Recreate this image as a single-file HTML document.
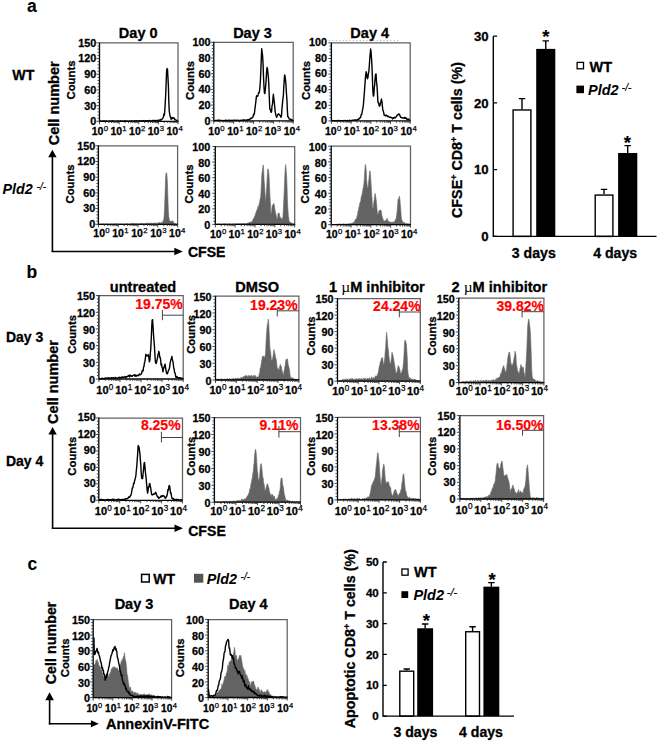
<!DOCTYPE html>
<html><head><meta charset="utf-8"><style>
html,body{margin:0;padding:0;background:#fff;width:660px;height:744px;overflow:hidden}
svg{display:block}
text{font-family:"Liberation Sans",sans-serif}
</style></head><body>
<svg width="660" height="744" viewBox="0 0 660 744" font-family='"Liberation Sans", sans-serif'>
<rect width="660" height="744" fill="#fff"/>
<path d="M100.00,121.21 L100.45,121.01 L100.90,121.20 L101.35,121.22 L101.80,121.30 L102.25,121.19 L102.70,120.86 L103.15,121.03 L103.60,120.88 L104.05,121.07 L104.50,121.04 L104.95,121.09 L105.40,121.30 L105.85,120.92 L106.30,121.01 L106.75,121.01 L107.20,121.30 L107.65,121.30 L108.10,121.30 L108.55,121.25 L109.00,121.05 L109.45,121.14 L109.90,121.00 L110.35,121.29 L110.80,121.05 L111.25,121.03 L111.70,121.29 L112.15,120.70 L112.60,120.99 L113.05,120.82 L113.50,121.28 L113.95,121.30 L114.40,121.21 L114.85,121.15 L115.30,120.96 L115.75,121.06 L116.20,121.23 L116.65,121.30 L117.10,121.25 L117.55,120.81 L118.00,121.30 L118.45,121.06 L118.90,121.01 L119.35,121.30 L119.80,121.10 L120.25,120.79 L120.70,121.30 L121.15,121.19 L121.60,121.14 L122.05,121.30 L122.50,120.98 L122.95,121.13 L123.40,121.30 L123.85,120.90 L124.30,120.94 L124.75,120.87 L125.20,120.74 L125.65,121.01 L126.10,121.07 L126.55,121.30 L127.00,120.94 L127.45,121.25 L127.90,121.21 L128.35,121.30 L128.80,121.30 L129.25,121.23 L129.70,120.76 L130.15,121.30 L130.60,121.30 L131.05,121.03 L131.50,120.72 L131.95,120.94 L132.40,121.30 L132.85,121.30 L133.30,120.98 L133.75,121.26 L134.20,121.30 L134.65,120.82 L135.10,120.78 L135.55,121.02 L136.00,120.99 L136.45,120.94 L136.90,120.64 L137.35,120.88 L137.80,120.91 L138.25,120.89 L138.70,121.30 L139.15,120.69 L139.60,120.77 L140.05,120.88 L140.50,121.30 L140.95,121.17 L141.40,120.78 L141.85,121.30 L142.30,121.03 L142.75,120.71 L143.20,121.30 L143.65,120.54 L144.10,120.81 L144.55,120.99 L145.00,120.85 L145.45,120.76 L145.90,120.89 L146.35,120.61 L146.80,121.09 L147.25,121.01 L147.70,120.61 L148.15,120.87 L148.60,121.11 L149.05,120.60 L149.50,120.45 L149.95,120.96 L150.40,121.21 L150.85,120.86 L151.30,120.85 L151.75,120.88 L152.20,120.39 L152.65,121.07 L153.10,120.41 L153.55,121.11 L154.00,120.96 L154.45,120.54 L154.90,120.38 L155.35,120.44 L155.80,120.56 L156.25,120.60 L156.70,120.57 L157.15,120.41 L157.60,120.60 L158.05,120.42 L158.50,120.28 L158.95,120.41 L159.40,120.12 L159.85,120.12 L160.30,119.57 L160.75,119.99 L161.20,120.02 L161.65,119.68 L162.10,119.11 L162.55,118.14 L163.00,118.13 L163.45,116.85 L163.90,113.96 L164.35,115.23 L164.80,110.50 L165.25,102.97 L165.70,94.20 L166.15,83.03 L166.60,70.74 L167.05,68.55 L167.50,69.14 L167.95,77.86 L168.40,86.14 L168.85,102.80 L169.30,111.65 L169.75,114.31 L170.20,116.53 L170.65,117.54 L171.10,119.27 L171.55,118.15 L172.00,117.42 L172.45,118.65 L172.90,118.17 L173.35,117.81 L173.80,118.08 L174.25,118.05 L174.70,119.77 L175.15,119.46 L175.60,119.86 L176.05,119.99 L176.50,120.27 L176.95,121.30 L177.40,120.69 L177.85,121.30 L178.00,120.97" fill="none" stroke="#000" stroke-width="1.4" stroke-linejoin="round"/>
<path d="M99.50,42.90 H178.00 V121.30" fill="none" stroke="#606060" stroke-width="1.25"/>
<path d="M99.50,42.40 V121.30 H178.50" fill="none" stroke="#000" stroke-width="1.3"/>
<path d="M96.50,121.30 H99.50 M97.50,118.16 H99.50 M97.50,115.03 H99.50 M97.50,111.89 H99.50 M97.50,108.76 H99.50 M96.50,105.62 H99.50 M97.50,102.48 H99.50 M97.50,99.35 H99.50 M97.50,96.21 H99.50 M97.50,93.08 H99.50 M96.50,89.94 H99.50 M97.50,86.80 H99.50 M97.50,83.67 H99.50 M97.50,80.53 H99.50 M97.50,77.40 H99.50 M96.50,74.26 H99.50 M97.50,71.12 H99.50 M97.50,67.99 H99.50 M97.50,64.85 H99.50 M97.50,61.72 H99.50 M96.50,58.58 H99.50 M97.50,55.44 H99.50 M97.50,52.31 H99.50 M97.50,49.17 H99.50 M97.50,46.04 H99.50 M96.50,42.90 H99.50" stroke="#333" stroke-width="0.9"/>
<path d="M99.50,121.30 V124.30 M105.41,121.30 V123.10 M108.86,121.30 V123.10 M111.32,121.30 V123.10 M113.22,121.30 V123.10 M114.77,121.30 V123.10 M116.09,121.30 V123.10 M117.22,121.30 V123.10 M118.23,121.30 V123.10 M119.12,121.30 V124.30 M125.03,121.30 V123.10 M128.49,121.30 V123.10 M130.94,121.30 V123.10 M132.84,121.30 V123.10 M134.40,121.30 V123.10 M135.71,121.30 V123.10 M136.85,121.30 V123.10 M137.85,121.30 V123.10 M138.75,121.30 V124.30 M144.66,121.30 V123.10 M148.11,121.30 V123.10 M150.57,121.30 V123.10 M152.47,121.30 V123.10 M154.02,121.30 V123.10 M155.34,121.30 V123.10 M156.47,121.30 V123.10 M157.48,121.30 V123.10 M158.38,121.30 V124.30 M164.28,121.30 V123.10 M167.74,121.30 V123.10 M170.19,121.30 V123.10 M172.09,121.30 V123.10 M173.65,121.30 V123.10 M174.96,121.30 V123.10 M176.10,121.30 V123.10 M177.10,121.30 V123.10 M178.00,121.30 V124.30" stroke="#333" stroke-width="0.9"/>
<text x="96.30" y="125.19" font-size="10.8" text-anchor="end" font-weight="bold" font-style="normal" fill="#000" stroke="#000" stroke-width="0.3" >0</text>
<text x="96.30" y="109.51" font-size="10.8" text-anchor="end" font-weight="bold" font-style="normal" fill="#000" stroke="#000" stroke-width="0.3" >30</text>
<text x="96.30" y="93.83" font-size="10.8" text-anchor="end" font-weight="bold" font-style="normal" fill="#000" stroke="#000" stroke-width="0.3" >60</text>
<text x="96.30" y="78.15" font-size="10.8" text-anchor="end" font-weight="bold" font-style="normal" fill="#000" stroke="#000" stroke-width="0.3" >90</text>
<text x="96.30" y="62.47" font-size="10.8" text-anchor="end" font-weight="bold" font-style="normal" fill="#000" stroke="#000" stroke-width="0.3" >120</text>
<text x="96.30" y="46.79" font-size="10.8" text-anchor="end" font-weight="bold" font-style="normal" fill="#000" stroke="#000" stroke-width="0.3" >150</text>
<text x="91.70" y="135.30" font-size="10.5" font-weight="bold" stroke="#000" stroke-width="0.3">10<tspan font-size="7.77" font-weight="normal" stroke-width="0.25" dx="0.3" dy="-4.20">0</tspan></text>
<text x="110.38" y="135.30" font-size="10.5" font-weight="bold" stroke="#000" stroke-width="0.3">10<tspan font-size="7.77" font-weight="normal" stroke-width="0.25" dx="0.3" dy="-4.20">1</tspan></text>
<text x="129.05" y="135.30" font-size="10.5" font-weight="bold" stroke="#000" stroke-width="0.3">10<tspan font-size="7.77" font-weight="normal" stroke-width="0.25" dx="0.3" dy="-4.20">2</tspan></text>
<text x="147.73" y="135.30" font-size="10.5" font-weight="bold" stroke="#000" stroke-width="0.3">10<tspan font-size="7.77" font-weight="normal" stroke-width="0.25" dx="0.3" dy="-4.20">3</tspan></text>
<text x="166.40" y="135.30" font-size="10.5" font-weight="bold" stroke="#000" stroke-width="0.3">10<tspan font-size="7.77" font-weight="normal" stroke-width="0.25" dx="0.3" dy="-4.20">4</tspan></text>
<text transform="translate(74.80,80.00) rotate(-90)" x="0" y="0" font-size="11.3" text-anchor="middle" font-weight="bold" stroke="#000" stroke-width="0.3">Counts</text>
<path d="M214.00,120.80 L214.45,120.60 L214.90,120.34 L215.35,120.67 L215.80,120.58 L216.25,120.43 L216.70,120.59 L217.15,120.64 L217.60,120.24 L218.05,120.36 L218.50,120.69 L218.95,119.93 L219.40,120.80 L219.85,120.38 L220.30,120.67 L220.75,120.57 L221.20,120.42 L221.65,120.54 L222.10,120.44 L222.55,120.80 L223.00,120.80 L223.45,120.44 L223.90,120.80 L224.35,120.80 L224.80,120.80 L225.25,120.27 L225.70,120.39 L226.15,120.21 L226.60,120.80 L227.05,120.57 L227.50,120.80 L227.95,120.38 L228.40,120.17 L228.85,120.79 L229.30,120.17 L229.75,120.31 L230.20,120.60 L230.65,120.80 L231.10,120.20 L231.55,120.57 L232.00,120.70 L232.45,120.44 L232.90,120.43 L233.35,120.16 L233.80,120.79 L234.25,120.24 L234.70,120.15 L235.15,120.15 L235.60,120.56 L236.05,120.70 L236.50,120.25 L236.95,120.47 L237.40,120.46 L237.85,120.13 L238.30,120.55 L238.75,120.80 L239.20,120.57 L239.65,120.80 L240.10,120.25 L240.55,120.37 L241.00,120.60 L241.45,120.44 L241.90,120.22 L242.35,120.40 L242.80,120.07 L243.25,120.42 L243.70,120.12 L244.15,119.98 L244.60,119.91 L245.05,120.47 L245.50,120.00 L245.95,120.69 L246.40,120.40 L246.85,120.57 L247.30,119.61 L247.75,120.18 L248.20,119.70 L248.65,119.62 L249.10,119.43 L249.55,119.46 L250.00,119.02 L250.45,118.29 L250.90,118.71 L251.35,118.32 L251.80,117.85 L252.25,117.81 L252.70,117.57 L253.15,116.32 L253.60,114.26 L254.05,114.70 L254.50,112.62 L254.95,108.77 L255.40,105.09 L255.85,101.59 L256.30,97.17 L256.75,95.63 L257.20,96.26 L257.65,96.26 L258.10,94.98 L258.55,92.80 L259.00,93.05 L259.45,91.57 L259.90,87.26 L260.35,81.51 L260.80,71.89 L261.25,59.52 L261.70,48.65 L262.15,52.55 L262.60,55.67 L263.05,63.57 L263.50,76.55 L263.95,86.23 L264.40,92.80 L264.85,93.59 L265.30,89.89 L265.75,85.17 L266.20,78.91 L266.65,70.69 L267.10,67.50 L267.55,69.30 L268.00,73.83 L268.45,78.14 L268.90,86.61 L269.35,97.89 L269.80,109.17 L270.25,109.29 L270.70,110.49 L271.15,112.38 L271.60,111.29 L272.05,105.49 L272.50,104.44 L272.95,98.29 L273.40,94.27 L273.85,98.92 L274.30,102.43 L274.75,106.76 L275.20,111.86 L275.65,113.97 L276.10,115.77 L276.55,117.30 L277.00,116.54 L277.45,115.55 L277.90,114.31 L278.35,114.07 L278.80,113.86 L279.25,114.72 L279.70,115.09 L280.15,115.36 L280.60,116.55 L281.05,117.26 L281.50,115.53 L281.95,108.75 L282.40,104.41 L282.85,98.97 L283.30,96.55 L283.75,87.21 L284.20,80.38 L284.65,74.83 L285.10,76.47 L285.55,80.61 L286.00,85.41 L286.45,93.45 L286.90,99.20 L287.35,109.82 L287.80,116.80 L288.25,116.91 L288.70,117.38 L289.15,119.07 L289.60,119.13 L290.05,119.07 L290.50,119.34 L290.95,119.77 L291.40,120.17 L291.85,119.50 L292.30,120.00 L292.75,120.76 L293.20,120.80 L293.20,120.23" fill="none" stroke="#000" stroke-width="1.4" stroke-linejoin="round"/>
<path d="M213.80,42.30 H293.20 V120.80" fill="none" stroke="#606060" stroke-width="1.25"/>
<path d="M213.80,41.80 V120.80 H293.70" fill="none" stroke="#000" stroke-width="1.3"/>
<path d="M210.80,120.80 H213.80 M211.80,117.66 H213.80 M211.80,114.52 H213.80 M211.80,111.38 H213.80 M211.80,108.24 H213.80 M210.80,105.10 H213.80 M211.80,101.96 H213.80 M211.80,98.82 H213.80 M211.80,95.68 H213.80 M211.80,92.54 H213.80 M210.80,89.40 H213.80 M211.80,86.26 H213.80 M211.80,83.12 H213.80 M211.80,79.98 H213.80 M211.80,76.84 H213.80 M210.80,73.70 H213.80 M211.80,70.56 H213.80 M211.80,67.42 H213.80 M211.80,64.28 H213.80 M211.80,61.14 H213.80 M210.80,58.00 H213.80 M211.80,54.86 H213.80 M211.80,51.72 H213.80 M211.80,48.58 H213.80 M211.80,45.44 H213.80 M210.80,42.30 H213.80" stroke="#333" stroke-width="0.9"/>
<path d="M213.80,120.80 V123.80 M219.78,120.80 V122.60 M223.27,120.80 V122.60 M225.75,120.80 V122.60 M227.67,120.80 V122.60 M229.25,120.80 V122.60 M230.58,120.80 V122.60 M231.73,120.80 V122.60 M232.74,120.80 V122.60 M233.65,120.80 V123.80 M239.63,120.80 V122.60 M243.12,120.80 V122.60 M245.60,120.80 V122.60 M247.52,120.80 V122.60 M249.10,120.80 V122.60 M250.43,120.80 V122.60 M251.58,120.80 V122.60 M252.59,120.80 V122.60 M253.50,120.80 V123.80 M259.48,120.80 V122.60 M262.97,120.80 V122.60 M265.45,120.80 V122.60 M267.37,120.80 V122.60 M268.95,120.80 V122.60 M270.28,120.80 V122.60 M271.43,120.80 V122.60 M272.44,120.80 V122.60 M273.35,120.80 V123.80 M279.33,120.80 V122.60 M282.82,120.80 V122.60 M285.30,120.80 V122.60 M287.22,120.80 V122.60 M288.80,120.80 V122.60 M290.13,120.80 V122.60 M291.28,120.80 V122.60 M292.29,120.80 V122.60 M293.20,120.80 V123.80" stroke="#333" stroke-width="0.9"/>
<text x="210.60" y="124.69" font-size="10.8" text-anchor="end" font-weight="bold" font-style="normal" fill="#000" stroke="#000" stroke-width="0.3" >0</text>
<text x="210.60" y="108.99" font-size="10.8" text-anchor="end" font-weight="bold" font-style="normal" fill="#000" stroke="#000" stroke-width="0.3" >20</text>
<text x="210.60" y="93.29" font-size="10.8" text-anchor="end" font-weight="bold" font-style="normal" fill="#000" stroke="#000" stroke-width="0.3" >40</text>
<text x="210.60" y="77.59" font-size="10.8" text-anchor="end" font-weight="bold" font-style="normal" fill="#000" stroke="#000" stroke-width="0.3" >60</text>
<text x="210.60" y="61.89" font-size="10.8" text-anchor="end" font-weight="bold" font-style="normal" fill="#000" stroke="#000" stroke-width="0.3" >80</text>
<text x="210.60" y="46.19" font-size="10.8" text-anchor="end" font-weight="bold" font-style="normal" fill="#000" stroke="#000" stroke-width="0.3" >100</text>
<text x="208.30" y="135.30" font-size="10.5" font-weight="bold" stroke="#000" stroke-width="0.3">10<tspan font-size="7.77" font-weight="normal" stroke-width="0.25" dx="0.3" dy="-4.20">0</tspan></text>
<text x="227.15" y="135.30" font-size="10.5" font-weight="bold" stroke="#000" stroke-width="0.3">10<tspan font-size="7.77" font-weight="normal" stroke-width="0.25" dx="0.3" dy="-4.20">1</tspan></text>
<text x="246.00" y="135.30" font-size="10.5" font-weight="bold" stroke="#000" stroke-width="0.3">10<tspan font-size="7.77" font-weight="normal" stroke-width="0.25" dx="0.3" dy="-4.20">2</tspan></text>
<text x="264.85" y="135.30" font-size="10.5" font-weight="bold" stroke="#000" stroke-width="0.3">10<tspan font-size="7.77" font-weight="normal" stroke-width="0.25" dx="0.3" dy="-4.20">3</tspan></text>
<text x="283.70" y="135.30" font-size="10.5" font-weight="bold" stroke="#000" stroke-width="0.3">10<tspan font-size="7.77" font-weight="normal" stroke-width="0.25" dx="0.3" dy="-4.20">4</tspan></text>
<text transform="translate(193.60,80.50) rotate(-90)" x="0" y="0" font-size="11.3" text-anchor="middle" font-weight="bold" stroke="#000" stroke-width="0.3">Counts</text>
<path d="M331.50,120.50 L331.95,120.30 L332.40,120.54 L332.85,120.90 L333.30,120.67 L333.75,120.90 L334.20,120.90 L334.65,120.74 L335.10,120.59 L335.55,120.89 L336.00,120.74 L336.45,120.60 L336.90,120.62 L337.35,120.55 L337.80,120.65 L338.25,120.78 L338.70,120.51 L339.15,120.69 L339.60,120.90 L340.05,120.85 L340.50,120.69 L340.95,120.71 L341.40,120.65 L341.85,120.68 L342.30,120.63 L342.75,120.71 L343.20,120.90 L343.65,120.56 L344.10,120.40 L344.55,120.55 L345.00,120.70 L345.45,120.54 L345.90,120.89 L346.35,120.90 L346.80,120.62 L347.25,120.87 L347.70,120.44 L348.15,120.89 L348.60,120.90 L349.05,120.87 L349.50,120.20 L349.95,120.69 L350.40,120.90 L350.85,120.77 L351.30,120.43 L351.75,120.42 L352.20,120.48 L352.65,120.11 L353.10,120.28 L353.55,120.44 L354.00,120.24 L354.45,119.91 L354.90,120.05 L355.35,119.98 L355.80,120.50 L356.25,120.18 L356.70,119.86 L357.15,120.05 L357.60,119.49 L358.05,119.43 L358.50,119.09 L358.95,119.19 L359.40,117.88 L359.85,117.95 L360.30,117.90 L360.75,116.88 L361.20,114.38 L361.65,114.60 L362.10,112.12 L362.55,109.98 L363.00,107.51 L363.45,104.22 L363.90,98.12 L364.35,93.17 L364.80,86.26 L365.25,79.88 L365.70,75.11 L366.15,71.77 L366.60,73.65 L367.05,77.30 L367.50,78.66 L367.95,77.30 L368.40,73.38 L368.85,71.58 L369.30,65.98 L369.75,58.60 L370.20,53.69 L370.65,49.05 L371.10,52.34 L371.55,59.05 L372.00,66.86 L372.45,79.41 L372.90,91.61 L373.35,96.13 L373.80,95.10 L374.25,87.98 L374.70,84.68 L375.15,77.50 L375.60,74.08 L376.05,73.98 L376.50,81.64 L376.95,85.47 L377.40,92.28 L377.85,101.41 L378.30,103.01 L378.75,103.13 L379.20,105.90 L379.65,106.21 L380.10,105.01 L380.55,102.63 L381.00,101.23 L381.45,99.06 L381.90,101.43 L382.35,105.74 L382.80,109.66 L383.25,110.91 L383.70,112.67 L384.15,115.22 L384.60,115.08 L385.05,115.60 L385.50,115.73 L385.95,115.26 L386.40,115.33 L386.85,115.23 L387.30,116.59 L387.75,116.63 L388.20,116.25 L388.65,116.60 L389.10,116.89 L389.55,116.97 L390.00,117.46 L390.45,116.95 L390.90,117.27 L391.35,117.60 L391.80,117.96 L392.25,117.83 L392.70,118.93 L393.15,118.17 L393.60,117.68 L394.05,118.25 L394.50,117.39 L394.95,117.26 L395.40,117.79 L395.85,117.10 L396.30,116.78 L396.75,115.84 L397.20,115.09 L397.65,114.82 L398.10,114.80 L398.55,114.03 L399.00,114.01 L399.45,114.22 L399.90,115.44 L400.35,116.64 L400.80,117.34 L401.25,117.21 L401.70,117.68 L402.15,118.08 L402.60,117.83 L403.05,118.11 L403.50,117.97 L403.95,117.89 L404.40,118.34 L404.85,117.33 L405.30,118.44 L405.75,117.98 L406.20,118.46 L406.65,118.23 L407.10,119.66 L407.55,119.27 L408.00,119.16 L408.45,119.29 L408.90,119.02 L409.35,119.89 L409.80,119.88 L410.20,120.23" fill="none" stroke="#000" stroke-width="1.4" stroke-linejoin="round"/>
<path d="M331.40,42.90 H410.20 V120.90" fill="none" stroke="#606060" stroke-width="1.25"/>
<path d="M331.40,42.40 V120.90 H410.70" fill="none" stroke="#000" stroke-width="1.3"/>
<path d="M328.40,120.90 H331.40 M329.40,117.78 H331.40 M329.40,114.66 H331.40 M329.40,111.54 H331.40 M329.40,108.42 H331.40 M328.40,105.30 H331.40 M329.40,102.18 H331.40 M329.40,99.06 H331.40 M329.40,95.94 H331.40 M329.40,92.82 H331.40 M328.40,89.70 H331.40 M329.40,86.58 H331.40 M329.40,83.46 H331.40 M329.40,80.34 H331.40 M329.40,77.22 H331.40 M328.40,74.10 H331.40 M329.40,70.98 H331.40 M329.40,67.86 H331.40 M329.40,64.74 H331.40 M329.40,61.62 H331.40 M328.40,58.50 H331.40 M329.40,55.38 H331.40 M329.40,52.26 H331.40 M329.40,49.14 H331.40 M329.40,46.02 H331.40 M328.40,42.90 H331.40" stroke="#333" stroke-width="0.9"/>
<path d="M331.40,120.90 V123.90 M337.33,120.90 V122.70 M340.80,120.90 V122.70 M343.26,120.90 V122.70 M345.17,120.90 V122.70 M346.73,120.90 V122.70 M348.05,120.90 V122.70 M349.19,120.90 V122.70 M350.20,120.90 V122.70 M351.10,120.90 V123.90 M357.03,120.90 V122.70 M360.50,120.90 V122.70 M362.96,120.90 V122.70 M364.87,120.90 V122.70 M366.43,120.90 V122.70 M367.75,120.90 V122.70 M368.89,120.90 V122.70 M369.90,120.90 V122.70 M370.80,120.90 V123.90 M376.73,120.90 V122.70 M380.20,120.90 V122.70 M382.66,120.90 V122.70 M384.57,120.90 V122.70 M386.13,120.90 V122.70 M387.45,120.90 V122.70 M388.59,120.90 V122.70 M389.60,120.90 V122.70 M390.50,120.90 V123.90 M396.43,120.90 V122.70 M399.90,120.90 V122.70 M402.36,120.90 V122.70 M404.27,120.90 V122.70 M405.83,120.90 V122.70 M407.15,120.90 V122.70 M408.29,120.90 V122.70 M409.30,120.90 V122.70 M410.20,120.90 V123.90" stroke="#333" stroke-width="0.9"/>
<text x="327.00" y="124.14" font-size="10.8" text-anchor="end" font-weight="bold" font-style="normal" fill="#000" stroke="#000" stroke-width="0.3" >0</text>
<text x="327.00" y="108.54" font-size="10.8" text-anchor="end" font-weight="bold" font-style="normal" fill="#000" stroke="#000" stroke-width="0.3" >20</text>
<text x="327.00" y="92.94" font-size="10.8" text-anchor="end" font-weight="bold" font-style="normal" fill="#000" stroke="#000" stroke-width="0.3" >40</text>
<text x="327.00" y="77.34" font-size="10.8" text-anchor="end" font-weight="bold" font-style="normal" fill="#000" stroke="#000" stroke-width="0.3" >60</text>
<text x="327.00" y="61.74" font-size="10.8" text-anchor="end" font-weight="bold" font-style="normal" fill="#000" stroke="#000" stroke-width="0.3" >80</text>
<text x="327.00" y="46.14" font-size="10.8" text-anchor="end" font-weight="bold" font-style="normal" fill="#000" stroke="#000" stroke-width="0.3" >100</text>
<text x="325.00" y="135.30" font-size="10.5" font-weight="bold" stroke="#000" stroke-width="0.3">10<tspan font-size="7.77" font-weight="normal" stroke-width="0.25" dx="0.3" dy="-4.20">0</tspan></text>
<text x="343.85" y="135.30" font-size="10.5" font-weight="bold" stroke="#000" stroke-width="0.3">10<tspan font-size="7.77" font-weight="normal" stroke-width="0.25" dx="0.3" dy="-4.20">1</tspan></text>
<text x="362.70" y="135.30" font-size="10.5" font-weight="bold" stroke="#000" stroke-width="0.3">10<tspan font-size="7.77" font-weight="normal" stroke-width="0.25" dx="0.3" dy="-4.20">2</tspan></text>
<text x="381.55" y="135.30" font-size="10.5" font-weight="bold" stroke="#000" stroke-width="0.3">10<tspan font-size="7.77" font-weight="normal" stroke-width="0.25" dx="0.3" dy="-4.20">3</tspan></text>
<text x="400.40" y="135.30" font-size="10.5" font-weight="bold" stroke="#000" stroke-width="0.3">10<tspan font-size="7.77" font-weight="normal" stroke-width="0.25" dx="0.3" dy="-4.20">4</tspan></text>
<text transform="translate(310.00,80.50) rotate(-90)" x="0" y="0" font-size="11.3" text-anchor="middle" font-weight="bold" stroke="#000" stroke-width="0.3">Counts</text>
<path d="M98.40,224.30 L98.50,223.96 L98.95,224.06 L99.40,224.22 L99.85,224.05 L100.30,224.30 L100.75,223.88 L101.20,224.30 L101.65,224.10 L102.10,223.63 L102.55,224.20 L103.00,224.14 L103.45,223.85 L103.90,224.13 L104.35,224.30 L104.80,224.06 L105.25,223.97 L105.70,223.93 L106.15,224.30 L106.60,223.66 L107.05,223.68 L107.50,224.09 L107.95,224.02 L108.40,224.19 L108.85,223.72 L109.30,224.26 L109.75,223.90 L110.20,224.19 L110.65,224.24 L111.10,223.87 L111.55,223.71 L112.00,224.05 L112.45,224.22 L112.90,223.83 L113.35,224.05 L113.80,223.95 L114.25,223.63 L114.70,223.72 L115.15,224.15 L115.60,223.41 L116.05,224.00 L116.50,223.79 L116.95,224.16 L117.40,224.00 L117.85,224.30 L118.30,223.51 L118.75,223.61 L119.20,224.29 L119.65,224.30 L120.10,224.30 L120.55,223.64 L121.00,224.07 L121.45,223.96 L121.90,224.02 L122.35,223.96 L122.80,224.22 L123.25,223.91 L123.70,224.30 L124.15,223.93 L124.60,223.82 L125.05,223.77 L125.50,223.95 L125.95,224.13 L126.40,223.83 L126.85,224.00 L127.30,223.43 L127.75,223.65 L128.20,223.88 L128.65,223.98 L129.10,224.03 L129.55,224.09 L130.00,223.92 L130.45,223.74 L130.90,223.67 L131.35,223.64 L131.80,223.21 L132.25,223.99 L132.70,223.78 L133.15,222.98 L133.60,224.29 L134.05,223.90 L134.50,223.70 L134.95,223.70 L135.40,223.61 L135.85,223.79 L136.30,223.61 L136.75,223.69 L137.20,223.47 L137.65,224.24 L138.10,223.93 L138.55,223.67 L139.00,223.96 L139.45,223.95 L139.90,223.45 L140.35,223.82 L140.80,223.43 L141.25,223.38 L141.70,223.50 L142.15,223.43 L142.60,223.60 L143.05,223.98 L143.50,223.56 L143.95,223.40 L144.40,223.68 L144.85,223.54 L145.30,223.27 L145.75,223.75 L146.20,223.27 L146.65,222.88 L147.10,223.62 L147.55,223.38 L148.00,223.46 L148.45,222.91 L148.90,223.28 L149.35,223.08 L149.80,223.58 L150.25,223.34 L150.70,223.33 L151.15,223.88 L151.60,222.82 L152.05,222.98 L152.50,223.83 L152.95,222.99 L153.40,223.27 L153.85,223.06 L154.30,223.08 L154.75,223.69 L155.20,223.24 L155.65,222.65 L156.10,223.34 L156.55,223.48 L157.00,223.58 L157.45,223.51 L157.90,222.95 L158.35,222.46 L158.80,222.87 L159.25,222.90 L159.70,222.15 L160.15,223.10 L160.60,223.11 L161.05,222.62 L161.50,222.55 L161.95,223.04 L162.40,222.76 L162.85,221.42 L163.30,220.37 L163.75,220.02 L164.20,215.37 L164.65,205.36 L165.10,193.03 L165.55,179.17 L166.00,172.95 L166.45,172.83 L166.90,174.60 L167.35,181.82 L167.80,195.26 L168.25,208.51 L168.70,216.29 L169.15,218.82 L169.60,220.62 L170.05,220.97 L170.50,221.74 L170.95,221.33 L171.40,220.89 L171.85,221.57 L172.30,220.63 L172.75,221.25 L173.20,221.29 L173.65,222.69 L174.10,223.60 L174.55,223.27 L175.00,223.41 L175.45,223.82 L175.90,223.55 L176.35,224.00 L176.80,224.20 L177.25,224.02 L177.50,224.30 L177.60,224.30 Z" fill="#636363" stroke="#6a6a6a" stroke-width="0.6"/>
<path d="M98.40,145.80 H177.60 V224.30" fill="none" stroke="#606060" stroke-width="1.25"/>
<path d="M98.40,145.30 V224.30 H178.10" fill="none" stroke="#000" stroke-width="1.3"/>
<path d="M95.40,224.30 H98.40 M96.40,221.16 H98.40 M96.40,218.02 H98.40 M96.40,214.88 H98.40 M96.40,211.74 H98.40 M95.40,208.60 H98.40 M96.40,205.46 H98.40 M96.40,202.32 H98.40 M96.40,199.18 H98.40 M96.40,196.04 H98.40 M95.40,192.90 H98.40 M96.40,189.76 H98.40 M96.40,186.62 H98.40 M96.40,183.48 H98.40 M96.40,180.34 H98.40 M95.40,177.20 H98.40 M96.40,174.06 H98.40 M96.40,170.92 H98.40 M96.40,167.78 H98.40 M96.40,164.64 H98.40 M95.40,161.50 H98.40 M96.40,158.36 H98.40 M96.40,155.22 H98.40 M96.40,152.08 H98.40 M96.40,148.94 H98.40 M95.40,145.80 H98.40" stroke="#333" stroke-width="0.9"/>
<path d="M98.40,224.30 V227.30 M104.36,224.30 V226.10 M107.85,224.30 V226.10 M110.32,224.30 V226.10 M112.24,224.30 V226.10 M113.81,224.30 V226.10 M115.13,224.30 V226.10 M116.28,224.30 V226.10 M117.29,224.30 V226.10 M118.20,224.30 V227.30 M124.16,224.30 V226.10 M127.65,224.30 V226.10 M130.12,224.30 V226.10 M132.04,224.30 V226.10 M133.61,224.30 V226.10 M134.93,224.30 V226.10 M136.08,224.30 V226.10 M137.09,224.30 V226.10 M138.00,224.30 V227.30 M143.96,224.30 V226.10 M147.45,224.30 V226.10 M149.92,224.30 V226.10 M151.84,224.30 V226.10 M153.41,224.30 V226.10 M154.73,224.30 V226.10 M155.88,224.30 V226.10 M156.89,224.30 V226.10 M157.80,224.30 V227.30 M163.76,224.30 V226.10 M167.25,224.30 V226.10 M169.72,224.30 V226.10 M171.64,224.30 V226.10 M173.21,224.30 V226.10 M174.53,224.30 V226.10 M175.68,224.30 V226.10 M176.69,224.30 V226.10 M177.60,224.30 V227.30" stroke="#333" stroke-width="0.9"/>
<text x="95.20" y="228.19" font-size="10.8" text-anchor="end" font-weight="bold" font-style="normal" fill="#000" stroke="#000" stroke-width="0.3" >0</text>
<text x="95.20" y="212.49" font-size="10.8" text-anchor="end" font-weight="bold" font-style="normal" fill="#000" stroke="#000" stroke-width="0.3" >30</text>
<text x="95.20" y="196.79" font-size="10.8" text-anchor="end" font-weight="bold" font-style="normal" fill="#000" stroke="#000" stroke-width="0.3" >60</text>
<text x="95.20" y="181.09" font-size="10.8" text-anchor="end" font-weight="bold" font-style="normal" fill="#000" stroke="#000" stroke-width="0.3" >90</text>
<text x="95.20" y="165.39" font-size="10.8" text-anchor="end" font-weight="bold" font-style="normal" fill="#000" stroke="#000" stroke-width="0.3" >120</text>
<text x="95.20" y="149.69" font-size="10.8" text-anchor="end" font-weight="bold" font-style="normal" fill="#000" stroke="#000" stroke-width="0.3" >150</text>
<text x="93.30" y="237.00" font-size="10.5" font-weight="bold" stroke="#000" stroke-width="0.3">10<tspan font-size="7.77" font-weight="normal" stroke-width="0.25" dx="0.3" dy="-4.20">0</tspan></text>
<text x="112.25" y="237.00" font-size="10.5" font-weight="bold" stroke="#000" stroke-width="0.3">10<tspan font-size="7.77" font-weight="normal" stroke-width="0.25" dx="0.3" dy="-4.20">1</tspan></text>
<text x="131.20" y="237.00" font-size="10.5" font-weight="bold" stroke="#000" stroke-width="0.3">10<tspan font-size="7.77" font-weight="normal" stroke-width="0.25" dx="0.3" dy="-4.20">2</tspan></text>
<text x="150.15" y="237.00" font-size="10.5" font-weight="bold" stroke="#000" stroke-width="0.3">10<tspan font-size="7.77" font-weight="normal" stroke-width="0.25" dx="0.3" dy="-4.20">3</tspan></text>
<text x="169.10" y="237.00" font-size="10.5" font-weight="bold" stroke="#000" stroke-width="0.3">10<tspan font-size="7.77" font-weight="normal" stroke-width="0.25" dx="0.3" dy="-4.20">4</tspan></text>
<text transform="translate(74.40,184.00) rotate(-90)" x="0" y="0" font-size="11.3" text-anchor="middle" font-weight="bold" stroke="#000" stroke-width="0.3">Counts</text>
<path d="M215.30,224.40 L215.50,224.40 L215.95,224.24 L216.40,224.02 L216.85,224.26 L217.30,224.13 L217.75,224.36 L218.20,224.12 L218.65,223.78 L219.10,224.35 L219.55,223.59 L220.00,224.33 L220.45,224.16 L220.90,224.11 L221.35,223.89 L221.80,224.40 L222.25,224.40 L222.70,223.98 L223.15,223.93 L223.60,223.96 L224.05,223.45 L224.50,224.06 L224.95,224.04 L225.40,223.86 L225.85,224.00 L226.30,223.67 L226.75,224.40 L227.20,224.17 L227.65,224.40 L228.10,223.86 L228.55,224.16 L229.00,223.82 L229.45,223.50 L229.90,224.04 L230.35,224.10 L230.80,224.16 L231.25,224.24 L231.70,224.18 L232.15,223.85 L232.60,223.99 L233.05,223.98 L233.50,224.03 L233.95,223.74 L234.40,223.84 L234.85,224.00 L235.30,223.78 L235.75,223.98 L236.20,224.24 L236.65,223.54 L237.10,223.79 L237.55,224.16 L238.00,223.61 L238.45,223.79 L238.90,224.28 L239.35,223.43 L239.80,223.75 L240.25,223.59 L240.70,223.76 L241.15,223.84 L241.60,224.20 L242.05,223.50 L242.50,223.74 L242.95,223.81 L243.40,223.62 L243.85,223.67 L244.30,223.49 L244.75,223.76 L245.20,223.65 L245.65,224.21 L246.10,223.70 L246.55,223.33 L247.00,223.07 L247.45,223.48 L247.90,223.31 L248.35,222.67 L248.80,223.12 L249.25,222.62 L249.70,222.12 L250.15,222.48 L250.60,221.84 L251.05,222.31 L251.50,221.71 L251.95,221.55 L252.40,221.16 L252.85,220.07 L253.30,218.42 L253.75,218.92 L254.20,217.73 L254.65,215.89 L255.10,215.97 L255.55,213.54 L256.00,212.22 L256.45,211.75 L256.90,209.68 L257.35,210.27 L257.80,206.72 L258.25,207.62 L258.70,205.61 L259.15,204.17 L259.60,202.47 L260.05,199.38 L260.50,197.68 L260.95,193.39 L261.40,183.91 L261.85,174.54 L262.30,171.29 L262.75,167.55 L263.20,164.89 L263.65,169.22 L264.10,180.67 L264.55,185.58 L265.00,193.69 L265.45,202.05 L265.90,198.20 L266.35,192.22 L266.80,185.41 L267.25,176.22 L267.70,168.93 L268.15,169.14 L268.60,171.44 L269.05,175.49 L269.50,186.27 L269.95,195.67 L270.40,203.23 L270.85,212.84 L271.30,213.57 L271.75,210.41 L272.20,205.40 L272.65,205.14 L273.10,204.68 L273.55,203.83 L274.00,203.50 L274.45,206.24 L274.90,209.30 L275.35,212.03 L275.80,213.82 L276.25,215.42 L276.70,218.37 L277.15,218.32 L277.60,218.47 L278.05,213.22 L278.50,213.78 L278.95,212.86 L279.40,213.75 L279.85,217.11 L280.30,217.09 L280.75,217.90 L281.20,219.40 L281.65,218.47 L282.10,218.18 L282.55,219.99 L283.00,215.37 L283.45,207.53 L283.90,197.46 L284.35,188.38 L284.80,176.28 L285.25,168.26 L285.70,164.54 L286.15,169.61 L286.60,175.37 L287.05,187.32 L287.50,202.02 L287.95,210.09 L288.40,215.76 L288.85,219.37 L289.30,221.59 L289.75,222.08 L290.20,222.22 L290.65,222.38 L291.10,222.87 L291.55,223.09 L292.00,223.47 L292.45,223.26 L292.90,223.90 L293.35,224.07 L293.80,223.81 L294.25,224.13 L294.60,224.31 L294.70,224.40 Z" fill="#636363" stroke="#6a6a6a" stroke-width="0.6"/>
<path d="M215.30,146.50 H294.70 V224.40" fill="none" stroke="#606060" stroke-width="1.25"/>
<path d="M215.30,146.00 V224.40 H295.20" fill="none" stroke="#000" stroke-width="1.3"/>
<path d="M212.30,224.40 H215.30 M213.30,221.28 H215.30 M213.30,218.17 H215.30 M213.30,215.05 H215.30 M213.30,211.94 H215.30 M212.30,208.82 H215.30 M213.30,205.70 H215.30 M213.30,202.59 H215.30 M213.30,199.47 H215.30 M213.30,196.36 H215.30 M212.30,193.24 H215.30 M213.30,190.12 H215.30 M213.30,187.01 H215.30 M213.30,183.89 H215.30 M213.30,180.78 H215.30 M212.30,177.66 H215.30 M213.30,174.54 H215.30 M213.30,171.43 H215.30 M213.30,168.31 H215.30 M213.30,165.20 H215.30 M212.30,162.08 H215.30 M213.30,158.96 H215.30 M213.30,155.85 H215.30 M213.30,152.73 H215.30 M213.30,149.62 H215.30 M212.30,146.50 H215.30" stroke="#333" stroke-width="0.9"/>
<path d="M215.30,224.40 V227.40 M221.28,224.40 V226.20 M224.77,224.40 V226.20 M227.25,224.40 V226.20 M229.17,224.40 V226.20 M230.75,224.40 V226.20 M232.08,224.40 V226.20 M233.23,224.40 V226.20 M234.24,224.40 V226.20 M235.15,224.40 V227.40 M241.13,224.40 V226.20 M244.62,224.40 V226.20 M247.10,224.40 V226.20 M249.02,224.40 V226.20 M250.60,224.40 V226.20 M251.93,224.40 V226.20 M253.08,224.40 V226.20 M254.09,224.40 V226.20 M255.00,224.40 V227.40 M260.98,224.40 V226.20 M264.47,224.40 V226.20 M266.95,224.40 V226.20 M268.87,224.40 V226.20 M270.45,224.40 V226.20 M271.78,224.40 V226.20 M272.93,224.40 V226.20 M273.94,224.40 V226.20 M274.85,224.40 V227.40 M280.83,224.40 V226.20 M284.32,224.40 V226.20 M286.80,224.40 V226.20 M288.72,224.40 V226.20 M290.30,224.40 V226.20 M291.63,224.40 V226.20 M292.78,224.40 V226.20 M293.79,224.40 V226.20 M294.70,224.40 V227.40" stroke="#333" stroke-width="0.9"/>
<text x="210.30" y="228.83" font-size="10.8" text-anchor="end" font-weight="bold" font-style="normal" fill="#000" stroke="#000" stroke-width="0.3" >0</text>
<text x="210.30" y="213.25" font-size="10.8" text-anchor="end" font-weight="bold" font-style="normal" fill="#000" stroke="#000" stroke-width="0.3" >20</text>
<text x="210.30" y="197.67" font-size="10.8" text-anchor="end" font-weight="bold" font-style="normal" fill="#000" stroke="#000" stroke-width="0.3" >40</text>
<text x="210.30" y="182.09" font-size="10.8" text-anchor="end" font-weight="bold" font-style="normal" fill="#000" stroke="#000" stroke-width="0.3" >60</text>
<text x="210.30" y="166.51" font-size="10.8" text-anchor="end" font-weight="bold" font-style="normal" fill="#000" stroke="#000" stroke-width="0.3" >80</text>
<text x="210.30" y="150.93" font-size="10.8" text-anchor="end" font-weight="bold" font-style="normal" fill="#000" stroke="#000" stroke-width="0.3" >100</text>
<text x="210.00" y="238.20" font-size="10.5" font-weight="bold" stroke="#000" stroke-width="0.3">10<tspan font-size="7.77" font-weight="normal" stroke-width="0.25" dx="0.3" dy="-4.20">0</tspan></text>
<text x="228.60" y="238.20" font-size="10.5" font-weight="bold" stroke="#000" stroke-width="0.3">10<tspan font-size="7.77" font-weight="normal" stroke-width="0.25" dx="0.3" dy="-4.20">1</tspan></text>
<text x="247.20" y="238.20" font-size="10.5" font-weight="bold" stroke="#000" stroke-width="0.3">10<tspan font-size="7.77" font-weight="normal" stroke-width="0.25" dx="0.3" dy="-4.20">2</tspan></text>
<text x="265.80" y="238.20" font-size="10.5" font-weight="bold" stroke="#000" stroke-width="0.3">10<tspan font-size="7.77" font-weight="normal" stroke-width="0.25" dx="0.3" dy="-4.20">3</tspan></text>
<text x="284.40" y="238.20" font-size="10.5" font-weight="bold" stroke="#000" stroke-width="0.3">10<tspan font-size="7.77" font-weight="normal" stroke-width="0.25" dx="0.3" dy="-4.20">4</tspan></text>
<text transform="translate(192.60,184.00) rotate(-90)" x="0" y="0" font-size="11.3" text-anchor="middle" font-weight="bold" stroke="#000" stroke-width="0.3">Counts</text>
<path d="M331.20,224.70 L331.50,224.68 L331.95,224.59 L332.40,224.35 L332.85,224.40 L333.30,224.70 L333.75,224.36 L334.20,224.40 L334.65,224.68 L335.10,224.22 L335.55,224.48 L336.00,224.48 L336.45,224.17 L336.90,224.03 L337.35,224.53 L337.80,224.22 L338.25,224.55 L338.70,223.71 L339.15,224.42 L339.60,223.97 L340.05,224.44 L340.50,224.04 L340.95,223.65 L341.40,224.70 L341.85,224.32 L342.30,224.05 L342.75,224.19 L343.20,224.32 L343.65,223.54 L344.10,224.08 L344.55,224.53 L345.00,223.82 L345.45,224.51 L345.90,223.69 L346.35,224.14 L346.80,223.91 L347.25,223.56 L347.70,223.85 L348.15,224.25 L348.60,224.30 L349.05,223.42 L349.50,223.50 L349.95,223.90 L350.40,223.34 L350.85,223.37 L351.30,223.23 L351.75,224.06 L352.20,223.33 L352.65,222.82 L353.10,222.66 L353.55,222.28 L354.00,223.13 L354.45,221.58 L354.90,220.81 L355.35,219.06 L355.80,220.08 L356.25,218.91 L356.70,217.66 L357.15,215.44 L357.60,214.49 L358.05,210.77 L358.50,210.23 L358.95,206.92 L359.40,205.57 L359.85,203.06 L360.30,202.09 L360.75,201.21 L361.20,196.91 L361.65,195.78 L362.10,194.54 L362.55,191.54 L363.00,188.35 L363.45,187.46 L363.90,183.39 L364.35,178.50 L364.80,170.68 L365.25,164.40 L365.70,165.72 L366.15,170.02 L366.60,179.22 L367.05,184.45 L367.50,188.36 L367.95,187.46 L368.40,183.73 L368.85,179.71 L369.30,174.93 L369.75,171.03 L370.20,171.12 L370.65,177.53 L371.10,183.43 L371.55,192.10 L372.00,198.26 L372.45,206.86 L372.90,209.31 L373.35,206.70 L373.80,202.60 L374.25,199.16 L374.70,195.42 L375.15,193.33 L375.60,196.02 L376.05,199.09 L376.50,202.68 L376.95,208.28 L377.40,212.67 L377.85,214.66 L378.30,213.88 L378.75,211.79 L379.20,210.38 L379.65,210.63 L380.10,210.06 L380.55,210.09 L381.00,210.15 L381.45,211.70 L381.90,215.79 L382.35,216.92 L382.80,218.17 L383.25,220.10 L383.70,220.75 L384.15,221.22 L384.60,221.58 L385.05,220.16 L385.50,221.74 L385.95,219.90 L386.40,220.33 L386.85,218.68 L387.30,218.13 L387.75,221.44 L388.20,220.77 L388.65,221.15 L389.10,221.79 L389.55,221.66 L390.00,222.96 L390.45,221.91 L390.90,222.19 L391.35,222.33 L391.80,222.53 L392.25,221.99 L392.70,222.32 L393.15,221.91 L393.60,222.03 L394.05,222.57 L394.50,221.37 L394.95,220.71 L395.40,219.59 L395.85,219.41 L396.30,217.56 L396.75,214.88 L397.20,210.54 L397.65,204.07 L398.10,199.32 L398.55,198.67 L399.00,197.55 L399.45,196.15 L399.90,199.64 L400.35,204.66 L400.80,209.89 L401.25,216.57 L401.70,220.06 L402.15,220.24 L402.60,221.79 L403.05,222.70 L403.50,222.79 L403.95,221.88 L404.40,222.34 L404.85,223.37 L405.30,223.49 L405.75,223.28 L406.20,223.67 L406.65,223.10 L407.10,223.59 L407.55,223.94 L408.00,223.27 L408.45,223.88 L408.90,223.69 L409.35,223.81 L409.80,223.95 L410.20,223.82 L410.50,224.70 Z" fill="#636363" stroke="#6a6a6a" stroke-width="0.6"/>
<path d="M331.20,146.20 H410.50 V224.70" fill="none" stroke="#606060" stroke-width="1.25"/>
<path d="M331.20,145.70 V224.70 H411.00" fill="none" stroke="#000" stroke-width="1.3"/>
<path d="M328.20,224.70 H331.20 M329.20,221.56 H331.20 M329.20,218.42 H331.20 M329.20,215.28 H331.20 M329.20,212.14 H331.20 M328.20,209.00 H331.20 M329.20,205.86 H331.20 M329.20,202.72 H331.20 M329.20,199.58 H331.20 M329.20,196.44 H331.20 M328.20,193.30 H331.20 M329.20,190.16 H331.20 M329.20,187.02 H331.20 M329.20,183.88 H331.20 M329.20,180.74 H331.20 M328.20,177.60 H331.20 M329.20,174.46 H331.20 M329.20,171.32 H331.20 M329.20,168.18 H331.20 M329.20,165.04 H331.20 M328.20,161.90 H331.20 M329.20,158.76 H331.20 M329.20,155.62 H331.20 M329.20,152.48 H331.20 M329.20,149.34 H331.20 M328.20,146.20 H331.20" stroke="#333" stroke-width="0.9"/>
<path d="M331.20,224.70 V227.70 M337.17,224.70 V226.50 M340.66,224.70 V226.50 M343.14,224.70 V226.50 M345.06,224.70 V226.50 M346.63,224.70 V226.50 M347.95,224.70 V226.50 M349.10,224.70 V226.50 M350.12,224.70 V226.50 M351.02,224.70 V227.70 M356.99,224.70 V226.50 M360.48,224.70 V226.50 M362.96,224.70 V226.50 M364.88,224.70 V226.50 M366.45,224.70 V226.50 M367.78,224.70 V226.50 M368.93,224.70 V226.50 M369.94,224.70 V226.50 M370.85,224.70 V227.70 M376.82,224.70 V226.50 M380.31,224.70 V226.50 M382.79,224.70 V226.50 M384.71,224.70 V226.50 M386.28,224.70 V226.50 M387.60,224.70 V226.50 M388.75,224.70 V226.50 M389.77,224.70 V226.50 M390.68,224.70 V227.70 M396.64,224.70 V226.50 M400.13,224.70 V226.50 M402.61,224.70 V226.50 M404.53,224.70 V226.50 M406.10,224.70 V226.50 M407.43,224.70 V226.50 M408.58,224.70 V226.50 M409.59,224.70 V226.50 M410.50,224.70 V227.70" stroke="#333" stroke-width="0.9"/>
<text x="326.80" y="229.34" font-size="10.8" text-anchor="end" font-weight="bold" font-style="normal" fill="#000" stroke="#000" stroke-width="0.3" >0</text>
<text x="326.80" y="213.64" font-size="10.8" text-anchor="end" font-weight="bold" font-style="normal" fill="#000" stroke="#000" stroke-width="0.3" >20</text>
<text x="326.80" y="197.94" font-size="10.8" text-anchor="end" font-weight="bold" font-style="normal" fill="#000" stroke="#000" stroke-width="0.3" >40</text>
<text x="326.80" y="182.24" font-size="10.8" text-anchor="end" font-weight="bold" font-style="normal" fill="#000" stroke="#000" stroke-width="0.3" >60</text>
<text x="326.80" y="166.54" font-size="10.8" text-anchor="end" font-weight="bold" font-style="normal" fill="#000" stroke="#000" stroke-width="0.3" >80</text>
<text x="326.80" y="150.84" font-size="10.8" text-anchor="end" font-weight="bold" font-style="normal" fill="#000" stroke="#000" stroke-width="0.3" >100</text>
<text x="326.00" y="238.10" font-size="10.5" font-weight="bold" stroke="#000" stroke-width="0.3">10<tspan font-size="7.77" font-weight="normal" stroke-width="0.25" dx="0.3" dy="-4.20">0</tspan></text>
<text x="344.77" y="238.10" font-size="10.5" font-weight="bold" stroke="#000" stroke-width="0.3">10<tspan font-size="7.77" font-weight="normal" stroke-width="0.25" dx="0.3" dy="-4.20">1</tspan></text>
<text x="363.55" y="238.10" font-size="10.5" font-weight="bold" stroke="#000" stroke-width="0.3">10<tspan font-size="7.77" font-weight="normal" stroke-width="0.25" dx="0.3" dy="-4.20">2</tspan></text>
<text x="382.32" y="238.10" font-size="10.5" font-weight="bold" stroke="#000" stroke-width="0.3">10<tspan font-size="7.77" font-weight="normal" stroke-width="0.25" dx="0.3" dy="-4.20">3</tspan></text>
<text x="401.10" y="238.10" font-size="10.5" font-weight="bold" stroke="#000" stroke-width="0.3">10<tspan font-size="7.77" font-weight="normal" stroke-width="0.25" dx="0.3" dy="-4.20">4</tspan></text>
<text transform="translate(309.20,184.00) rotate(-90)" x="0" y="0" font-size="11.3" text-anchor="middle" font-weight="bold" stroke="#000" stroke-width="0.3">Counts</text>
<path d="M99.00,379.00 L99.45,379.00 L99.90,379.00 L100.35,378.92 L100.80,378.74 L101.25,378.49 L101.70,378.44 L102.15,378.27 L102.60,378.37 L103.05,378.63 L103.50,378.58 L103.95,379.00 L104.40,378.38 L104.85,378.16 L105.30,378.13 L105.75,378.32 L106.20,378.32 L106.65,377.96 L107.10,378.24 L107.55,378.00 L108.00,378.04 L108.45,378.14 L108.90,377.78 L109.35,378.38 L109.80,378.30 L110.25,378.44 L110.70,378.43 L111.15,377.66 L111.60,377.58 L112.05,378.14 L112.50,377.95 L112.95,377.74 L113.40,377.85 L113.85,377.71 L114.30,378.52 L114.75,378.30 L115.20,377.92 L115.65,377.58 L116.10,378.01 L116.55,378.32 L117.00,378.13 L117.45,378.22 L117.90,378.26 L118.35,377.43 L118.80,378.14 L119.25,377.89 L119.70,377.11 L120.15,377.41 L120.60,377.67 L121.05,377.96 L121.50,377.53 L121.95,377.01 L122.40,377.31 L122.85,376.99 L123.30,377.36 L123.75,377.11 L124.20,377.31 L124.65,376.96 L125.10,376.50 L125.55,377.58 L126.00,376.89 L126.45,376.66 L126.90,376.93 L127.35,376.72 L127.80,376.10 L128.25,375.41 L128.70,375.98 L129.15,376.03 L129.60,376.90 L130.05,375.02 L130.50,375.89 L130.95,375.87 L131.40,376.38 L131.85,375.73 L132.30,376.24 L132.75,375.54 L133.20,375.26 L133.65,375.46 L134.10,375.28 L134.55,375.89 L135.00,374.54 L135.45,375.71 L135.90,376.36 L136.35,375.37 L136.80,375.67 L137.25,375.77 L137.70,375.33 L138.15,374.88 L138.60,375.71 L139.05,375.00 L139.50,373.93 L139.95,374.29 L140.40,374.71 L140.85,374.32 L141.30,373.88 L141.75,372.86 L142.20,370.90 L142.65,370.23 L143.10,371.01 L143.55,367.07 L144.00,366.37 L144.45,362.77 L144.90,361.64 L145.35,358.47 L145.80,354.32 L146.25,356.04 L146.70,355.43 L147.15,355.26 L147.60,355.92 L148.05,355.33 L148.50,354.79 L148.95,358.70 L149.40,361.88 L149.85,360.16 L150.30,353.29 L150.75,348.72 L151.20,340.29 L151.65,328.97 L152.10,320.27 L152.55,319.62 L153.00,325.74 L153.45,333.81 L153.90,340.04 L154.35,345.03 L154.80,352.47 L155.25,360.27 L155.70,363.10 L156.15,363.42 L156.60,361.99 L157.05,359.94 L157.50,357.87 L157.95,354.55 L158.40,354.04 L158.85,351.32 L159.30,353.39 L159.75,357.34 L160.20,357.29 L160.65,360.19 L161.10,365.11 L161.55,363.84 L162.00,367.29 L162.45,367.87 L162.90,371.89 L163.35,369.47 L163.80,368.05 L164.25,366.52 L164.70,365.24 L165.15,364.17 L165.60,368.25 L166.05,370.51 L166.50,373.04 L166.95,373.74 L167.40,373.74 L167.85,372.19 L168.30,371.03 L168.75,369.82 L169.20,369.11 L169.65,367.12 L170.10,363.42 L170.55,361.16 L171.00,359.65 L171.45,358.60 L171.90,356.37 L172.35,359.74 L172.80,360.92 L173.25,363.41 L173.70,367.76 L174.15,368.93 L174.60,372.72 L175.05,372.93 L175.50,375.23 L175.95,377.24 L176.40,376.60 L176.85,377.50 L177.30,376.80 L177.75,377.74 L178.20,377.67 L178.65,377.61 L179.10,377.92 L179.55,377.80 L180.00,378.16 L180.45,377.83 L180.90,378.14 L181.35,378.18 L181.80,379.00 L182.25,378.20 L182.70,378.70 L183.00,379.00" fill="none" stroke="#000" stroke-width="1.4" stroke-linejoin="round"/>
<path d="M98.90,295.60 H183.20 V379.00" fill="none" stroke="#606060" stroke-width="1.25"/>
<path d="M98.90,295.10 V379.00 H183.70" fill="none" stroke="#000" stroke-width="1.3"/>
<path d="M95.90,379.00 H98.90 M96.90,375.66 H98.90 M96.90,372.33 H98.90 M96.90,368.99 H98.90 M96.90,365.66 H98.90 M95.90,362.32 H98.90 M96.90,358.98 H98.90 M96.90,355.65 H98.90 M96.90,352.31 H98.90 M96.90,348.98 H98.90 M95.90,345.64 H98.90 M96.90,342.30 H98.90 M96.90,338.97 H98.90 M96.90,335.63 H98.90 M96.90,332.30 H98.90 M95.90,328.96 H98.90 M96.90,325.62 H98.90 M96.90,322.29 H98.90 M96.90,318.95 H98.90 M96.90,315.62 H98.90 M95.90,312.28 H98.90 M96.90,308.94 H98.90 M96.90,305.61 H98.90 M96.90,302.27 H98.90 M96.90,298.94 H98.90 M95.90,295.60 H98.90" stroke="#333" stroke-width="0.9"/>
<path d="M98.90,379.00 V382.00 M105.24,379.00 V380.80 M108.96,379.00 V380.80 M111.59,379.00 V380.80 M113.63,379.00 V380.80 M115.30,379.00 V380.80 M116.71,379.00 V380.80 M117.93,379.00 V380.80 M119.01,379.00 V380.80 M119.97,379.00 V382.00 M126.32,379.00 V380.80 M130.03,379.00 V380.80 M132.66,379.00 V380.80 M134.71,379.00 V380.80 M136.37,379.00 V380.80 M137.79,379.00 V380.80 M139.01,379.00 V380.80 M140.09,379.00 V380.80 M141.05,379.00 V382.00 M147.39,379.00 V380.80 M151.11,379.00 V380.80 M153.74,379.00 V380.80 M155.78,379.00 V380.80 M157.45,379.00 V380.80 M158.86,379.00 V380.80 M160.08,379.00 V380.80 M161.16,379.00 V380.80 M162.12,379.00 V382.00 M168.47,379.00 V380.80 M172.18,379.00 V380.80 M174.81,379.00 V380.80 M176.86,379.00 V380.80 M178.52,379.00 V380.80 M179.94,379.00 V380.80 M181.16,379.00 V380.80 M182.24,379.00 V380.80 M183.20,379.00 V382.00" stroke="#333" stroke-width="0.9"/>
<text x="94.90" y="383.64" font-size="10.8" text-anchor="end" font-weight="bold" font-style="normal" fill="#000" stroke="#000" stroke-width="0.3" >0</text>
<text x="94.90" y="366.96" font-size="10.8" text-anchor="end" font-weight="bold" font-style="normal" fill="#000" stroke="#000" stroke-width="0.3" >30</text>
<text x="94.90" y="350.28" font-size="10.8" text-anchor="end" font-weight="bold" font-style="normal" fill="#000" stroke="#000" stroke-width="0.3" >60</text>
<text x="94.90" y="333.60" font-size="10.8" text-anchor="end" font-weight="bold" font-style="normal" fill="#000" stroke="#000" stroke-width="0.3" >90</text>
<text x="94.90" y="316.92" font-size="10.8" text-anchor="end" font-weight="bold" font-style="normal" fill="#000" stroke="#000" stroke-width="0.3" >120</text>
<text x="94.90" y="300.24" font-size="10.8" text-anchor="end" font-weight="bold" font-style="normal" fill="#000" stroke="#000" stroke-width="0.3" >150</text>
<text x="96.30" y="394.00" font-size="11" font-weight="bold" stroke="#000" stroke-width="0.3">10<tspan font-size="8.14" font-weight="normal" stroke-width="0.25" dx="0.3" dy="-4.40">0</tspan></text>
<text x="115.21" y="394.00" font-size="11" font-weight="bold" stroke="#000" stroke-width="0.3">10<tspan font-size="8.14" font-weight="normal" stroke-width="0.25" dx="0.3" dy="-4.40">1</tspan></text>
<text x="134.13" y="394.00" font-size="11" font-weight="bold" stroke="#000" stroke-width="0.3">10<tspan font-size="8.14" font-weight="normal" stroke-width="0.25" dx="0.3" dy="-4.40">2</tspan></text>
<text x="153.04" y="394.00" font-size="11" font-weight="bold" stroke="#000" stroke-width="0.3">10<tspan font-size="8.14" font-weight="normal" stroke-width="0.25" dx="0.3" dy="-4.40">3</tspan></text>
<text x="171.96" y="394.00" font-size="11" font-weight="bold" stroke="#000" stroke-width="0.3">10<tspan font-size="8.14" font-weight="normal" stroke-width="0.25" dx="0.3" dy="-4.40">4</tspan></text>
<text transform="translate(75.60,334.40) rotate(-90)" x="0" y="0" font-size="11.3" text-anchor="middle" font-weight="bold" stroke="#000" stroke-width="0.3">Counts</text>
<text x="182.80" y="309.40" font-size="14" text-anchor="end" font-weight="bold" font-style="normal" fill="#ff0000" stroke="#ff0000" stroke-width="0.2" >19.75%</text>
<path d="M162.40,315.20 H183.20 M162.40,310.00 V320.20" stroke="#444" stroke-width="1.0" fill="none"/>
<path d="M215.50,380.00 L215.60,379.81 L216.05,379.58 L216.50,379.29 L216.95,379.86 L217.40,379.03 L217.85,379.50 L218.30,378.69 L218.75,379.42 L219.20,379.13 L219.65,379.43 L220.10,379.64 L220.55,378.91 L221.00,378.94 L221.45,378.71 L221.90,378.91 L222.35,379.35 L222.80,379.69 L223.25,379.34 L223.70,379.33 L224.15,379.36 L224.60,378.88 L225.05,378.95 L225.50,379.14 L225.95,378.98 L226.40,379.07 L226.85,378.94 L227.30,378.74 L227.75,378.66 L228.20,379.21 L228.65,379.48 L229.10,378.46 L229.55,378.90 L230.00,378.54 L230.45,379.49 L230.90,379.01 L231.35,378.87 L231.80,379.38 L232.25,379.03 L232.70,378.57 L233.15,378.42 L233.60,378.22 L234.05,379.08 L234.50,379.26 L234.95,378.53 L235.40,378.34 L235.85,378.59 L236.30,379.12 L236.75,378.30 L237.20,378.26 L237.65,378.31 L238.10,378.67 L238.55,378.31 L239.00,378.04 L239.45,378.49 L239.90,378.93 L240.35,377.90 L240.80,377.71 L241.25,377.78 L241.70,377.24 L242.15,377.79 L242.60,377.41 L243.05,377.38 L243.50,376.79 L243.95,376.11 L244.40,376.95 L244.85,375.57 L245.30,375.74 L245.75,376.05 L246.20,376.08 L246.65,375.32 L247.10,376.39 L247.55,376.29 L248.00,376.80 L248.45,375.82 L248.90,375.23 L249.35,375.67 L249.80,375.68 L250.25,376.02 L250.70,375.75 L251.15,376.71 L251.60,375.13 L252.05,376.03 L252.50,376.46 L252.95,376.23 L253.40,376.30 L253.85,375.31 L254.30,375.28 L254.75,376.88 L255.20,375.63 L255.65,375.80 L256.10,376.78 L256.55,377.40 L257.00,377.09 L257.45,377.10 L257.90,376.62 L258.35,376.93 L258.80,376.97 L259.25,373.53 L259.70,372.89 L260.15,368.07 L260.60,367.95 L261.05,364.72 L261.50,362.12 L261.95,359.51 L262.40,356.35 L262.85,356.29 L263.30,356.24 L263.75,356.32 L264.20,357.99 L264.65,356.64 L265.10,356.13 L265.55,353.21 L266.00,342.77 L266.45,334.56 L266.90,328.98 L267.35,325.00 L267.80,322.82 L268.25,319.11 L268.70,322.46 L269.15,331.76 L269.60,341.54 L270.05,349.16 L270.50,351.34 L270.95,355.05 L271.40,359.70 L271.85,361.04 L272.30,359.99 L272.75,357.57 L273.20,355.45 L273.65,350.72 L274.10,349.61 L274.55,352.70 L275.00,353.48 L275.45,357.07 L275.90,358.42 L276.35,360.08 L276.80,364.53 L277.25,368.52 L277.70,367.68 L278.15,370.02 L278.60,368.86 L279.05,370.93 L279.50,367.46 L279.95,365.30 L280.40,364.45 L280.85,366.25 L281.30,366.59 L281.75,369.30 L282.20,370.90 L282.65,373.23 L283.10,374.59 L283.55,374.78 L284.00,370.98 L284.45,369.78 L284.90,366.31 L285.35,364.58 L285.80,360.70 L286.25,358.91 L286.70,359.27 L287.15,358.91 L287.60,359.24 L288.05,364.06 L288.50,365.76 L288.95,367.30 L289.40,369.55 L289.85,372.89 L290.30,376.48 L290.75,377.92 L291.20,377.82 L291.65,377.99 L292.10,377.31 L292.55,378.82 L293.00,378.19 L293.45,378.45 L293.90,379.42 L294.35,379.19 L294.80,378.91 L295.25,379.20 L295.70,379.15 L296.15,379.02 L296.60,379.52 L297.05,379.21 L297.50,379.66 L297.95,379.75 L298.40,379.57 L298.80,379.99 L298.90,380.00 Z" fill="#636363" stroke="#6a6a6a" stroke-width="0.6"/>
<path d="M215.50,296.20 H298.90 V380.00" fill="none" stroke="#606060" stroke-width="1.25"/>
<path d="M215.50,295.70 V380.00 H299.40" fill="none" stroke="#000" stroke-width="1.3"/>
<path d="M212.50,380.00 H215.50 M213.50,376.65 H215.50 M213.50,373.30 H215.50 M213.50,369.94 H215.50 M213.50,366.59 H215.50 M212.50,363.24 H215.50 M213.50,359.89 H215.50 M213.50,356.54 H215.50 M213.50,353.18 H215.50 M213.50,349.83 H215.50 M212.50,346.48 H215.50 M213.50,343.13 H215.50 M213.50,339.78 H215.50 M213.50,336.42 H215.50 M213.50,333.07 H215.50 M212.50,329.72 H215.50 M213.50,326.37 H215.50 M213.50,323.02 H215.50 M213.50,319.66 H215.50 M213.50,316.31 H215.50 M212.50,312.96 H215.50 M213.50,309.61 H215.50 M213.50,306.26 H215.50 M213.50,302.90 H215.50 M213.50,299.55 H215.50 M212.50,296.20 H215.50" stroke="#333" stroke-width="0.9"/>
<path d="M215.50,380.00 V383.00 M221.78,380.00 V381.80 M225.45,380.00 V381.80 M228.05,380.00 V381.80 M230.07,380.00 V381.80 M231.72,380.00 V381.80 M233.12,380.00 V381.80 M234.33,380.00 V381.80 M235.40,380.00 V381.80 M236.35,380.00 V383.00 M242.63,380.00 V381.80 M246.30,380.00 V381.80 M248.90,380.00 V381.80 M250.92,380.00 V381.80 M252.57,380.00 V381.80 M253.97,380.00 V381.80 M255.18,380.00 V381.80 M256.25,380.00 V381.80 M257.20,380.00 V383.00 M263.48,380.00 V381.80 M267.15,380.00 V381.80 M269.75,380.00 V381.80 M271.77,380.00 V381.80 M273.42,380.00 V381.80 M274.82,380.00 V381.80 M276.03,380.00 V381.80 M277.10,380.00 V381.80 M278.05,380.00 V383.00 M284.33,380.00 V381.80 M288.00,380.00 V381.80 M290.60,380.00 V381.80 M292.62,380.00 V381.80 M294.27,380.00 V381.80 M295.67,380.00 V381.80 M296.88,380.00 V381.80 M297.95,380.00 V381.80 M298.90,380.00 V383.00" stroke="#333" stroke-width="0.9"/>
<text x="211.50" y="384.64" font-size="10.8" text-anchor="end" font-weight="bold" font-style="normal" fill="#000" stroke="#000" stroke-width="0.3" >0</text>
<text x="211.50" y="367.88" font-size="10.8" text-anchor="end" font-weight="bold" font-style="normal" fill="#000" stroke="#000" stroke-width="0.3" >30</text>
<text x="211.50" y="351.12" font-size="10.8" text-anchor="end" font-weight="bold" font-style="normal" fill="#000" stroke="#000" stroke-width="0.3" >60</text>
<text x="211.50" y="334.36" font-size="10.8" text-anchor="end" font-weight="bold" font-style="normal" fill="#000" stroke="#000" stroke-width="0.3" >90</text>
<text x="211.50" y="317.60" font-size="10.8" text-anchor="end" font-weight="bold" font-style="normal" fill="#000" stroke="#000" stroke-width="0.3" >120</text>
<text x="211.50" y="300.84" font-size="10.8" text-anchor="end" font-weight="bold" font-style="normal" fill="#000" stroke="#000" stroke-width="0.3" >150</text>
<text x="209.50" y="394.00" font-size="11" font-weight="bold" stroke="#000" stroke-width="0.3">10<tspan font-size="8.14" font-weight="normal" stroke-width="0.25" dx="0.3" dy="-4.40">0</tspan></text>
<text x="228.39" y="394.00" font-size="11" font-weight="bold" stroke="#000" stroke-width="0.3">10<tspan font-size="8.14" font-weight="normal" stroke-width="0.25" dx="0.3" dy="-4.40">1</tspan></text>
<text x="247.28" y="394.00" font-size="11" font-weight="bold" stroke="#000" stroke-width="0.3">10<tspan font-size="8.14" font-weight="normal" stroke-width="0.25" dx="0.3" dy="-4.40">2</tspan></text>
<text x="266.17" y="394.00" font-size="11" font-weight="bold" stroke="#000" stroke-width="0.3">10<tspan font-size="8.14" font-weight="normal" stroke-width="0.25" dx="0.3" dy="-4.40">3</tspan></text>
<text x="285.06" y="394.00" font-size="11" font-weight="bold" stroke="#000" stroke-width="0.3">10<tspan font-size="8.14" font-weight="normal" stroke-width="0.25" dx="0.3" dy="-4.40">4</tspan></text>
<text transform="translate(194.60,334.40) rotate(-90)" x="0" y="0" font-size="11.3" text-anchor="middle" font-weight="bold" stroke="#000" stroke-width="0.3">Counts</text>
<text x="297.60" y="310.00" font-size="14" text-anchor="end" font-weight="bold" font-style="normal" fill="#ff0000" stroke="#ff0000" stroke-width="0.2" >19.23%</text>
<path d="M277.30,310.80 H298.90 M277.30,307.90 V316.40" stroke="#444" stroke-width="1.0" fill="none"/>
<path d="M337.50,381.20 L337.50,380.96 L337.95,380.39 L338.40,380.71 L338.85,380.68 L339.30,380.32 L339.75,380.58 L340.20,380.05 L340.65,380.74 L341.10,380.04 L341.55,380.35 L342.00,380.39 L342.45,379.43 L342.90,380.29 L343.35,379.30 L343.80,379.63 L344.25,379.28 L344.70,380.14 L345.15,379.27 L345.60,379.11 L346.05,379.68 L346.50,379.64 L346.95,378.57 L347.40,379.44 L347.85,379.64 L348.30,379.69 L348.75,379.21 L349.20,379.23 L349.65,379.26 L350.10,378.58 L350.55,379.41 L351.00,379.04 L351.45,378.59 L351.90,379.61 L352.35,378.71 L352.80,378.34 L353.25,379.70 L353.70,379.56 L354.15,379.51 L354.60,379.85 L355.05,378.80 L355.50,379.81 L355.95,378.74 L356.40,378.28 L356.85,379.65 L357.30,379.05 L357.75,379.76 L358.20,378.51 L358.65,379.19 L359.10,378.96 L359.55,378.80 L360.00,378.56 L360.45,378.95 L360.90,378.77 L361.35,379.02 L361.80,378.69 L362.25,379.28 L362.70,378.68 L363.15,379.60 L363.60,378.90 L364.05,377.73 L364.50,378.58 L364.95,379.21 L365.40,378.46 L365.85,379.03 L366.30,379.34 L366.75,378.87 L367.20,378.13 L367.65,378.28 L368.10,378.49 L368.55,378.87 L369.00,378.92 L369.45,377.66 L369.90,378.18 L370.35,378.75 L370.80,379.31 L371.25,378.88 L371.70,376.81 L372.15,378.66 L372.60,378.02 L373.05,377.76 L373.50,377.83 L373.95,377.75 L374.40,378.20 L374.85,377.81 L375.30,375.83 L375.75,377.10 L376.20,375.68 L376.65,377.11 L377.10,375.66 L377.55,374.71 L378.00,372.62 L378.45,372.62 L378.90,368.42 L379.35,366.05 L379.80,364.82 L380.25,361.84 L380.70,361.63 L381.15,359.97 L381.60,357.91 L382.05,359.79 L382.50,357.43 L382.95,360.83 L383.40,364.32 L383.85,364.53 L384.30,361.42 L384.75,358.46 L385.20,351.84 L385.65,347.56 L386.10,338.91 L386.55,332.34 L387.00,336.09 L387.45,340.64 L387.90,347.53 L388.35,349.99 L388.80,355.01 L389.25,358.84 L389.70,362.66 L390.15,362.92 L390.60,363.67 L391.05,360.93 L391.50,357.79 L391.95,352.27 L392.40,353.35 L392.85,354.92 L393.30,357.21 L393.75,359.40 L394.20,362.57 L394.65,364.38 L395.10,367.74 L395.55,370.46 L396.00,372.96 L396.45,372.89 L396.90,372.66 L397.35,370.06 L397.80,367.49 L398.25,365.46 L398.70,367.45 L399.15,366.97 L399.60,369.35 L400.05,370.10 L400.50,374.11 L400.95,373.62 L401.40,372.80 L401.85,372.02 L402.30,369.54 L402.75,369.51 L403.20,365.22 L403.65,360.68 L404.10,352.50 L404.55,342.28 L405.00,340.02 L405.45,340.52 L405.90,342.36 L406.35,344.12 L406.80,350.07 L407.25,357.55 L407.70,369.42 L408.15,374.16 L408.60,375.99 L409.05,378.14 L409.50,378.28 L409.95,377.45 L410.40,378.51 L410.85,378.92 L411.30,378.85 L411.75,379.32 L412.20,379.52 L412.65,379.39 L413.10,379.50 L413.55,379.09 L414.00,379.75 L414.45,379.17 L414.90,379.29 L415.35,379.41 L415.80,379.72 L416.25,380.11 L416.70,380.18 L417.15,380.35 L417.60,380.62 L418.05,380.50 L418.50,380.77 L418.95,380.21 L419.40,380.66 L419.85,381.06 L420.20,381.20 L420.30,381.20 Z" fill="#636363" stroke="#6a6a6a" stroke-width="0.6"/>
<path d="M337.50,298.60 H420.30 V381.20" fill="none" stroke="#606060" stroke-width="1.25"/>
<path d="M337.50,298.10 V381.20 H420.80" fill="none" stroke="#000" stroke-width="1.3"/>
<path d="M334.50,381.20 H337.50 M335.50,377.90 H337.50 M335.50,374.59 H337.50 M335.50,371.29 H337.50 M335.50,367.98 H337.50 M334.50,364.68 H337.50 M335.50,361.38 H337.50 M335.50,358.07 H337.50 M335.50,354.77 H337.50 M335.50,351.46 H337.50 M334.50,348.16 H337.50 M335.50,344.86 H337.50 M335.50,341.55 H337.50 M335.50,338.25 H337.50 M335.50,334.94 H337.50 M334.50,331.64 H337.50 M335.50,328.34 H337.50 M335.50,325.03 H337.50 M335.50,321.73 H337.50 M335.50,318.42 H337.50 M334.50,315.12 H337.50 M335.50,311.82 H337.50 M335.50,308.51 H337.50 M335.50,305.21 H337.50 M335.50,301.90 H337.50 M334.50,298.60 H337.50" stroke="#333" stroke-width="0.9"/>
<path d="M337.50,381.20 V384.20 M343.73,381.20 V383.00 M347.38,381.20 V383.00 M349.96,381.20 V383.00 M351.97,381.20 V383.00 M353.61,381.20 V383.00 M354.99,381.20 V383.00 M356.19,381.20 V383.00 M357.25,381.20 V383.00 M358.20,381.20 V384.20 M364.43,381.20 V383.00 M368.08,381.20 V383.00 M370.66,381.20 V383.00 M372.67,381.20 V383.00 M374.31,381.20 V383.00 M375.69,381.20 V383.00 M376.89,381.20 V383.00 M377.95,381.20 V383.00 M378.90,381.20 V384.20 M385.13,381.20 V383.00 M388.78,381.20 V383.00 M391.36,381.20 V383.00 M393.37,381.20 V383.00 M395.01,381.20 V383.00 M396.39,381.20 V383.00 M397.59,381.20 V383.00 M398.65,381.20 V383.00 M399.60,381.20 V384.20 M405.83,381.20 V383.00 M409.48,381.20 V383.00 M412.06,381.20 V383.00 M414.07,381.20 V383.00 M415.71,381.20 V383.00 M417.09,381.20 V383.00 M418.29,381.20 V383.00 M419.35,381.20 V383.00 M420.30,381.20 V384.20" stroke="#333" stroke-width="0.9"/>
<text x="333.50" y="385.84" font-size="10.8" text-anchor="end" font-weight="bold" font-style="normal" fill="#000" stroke="#000" stroke-width="0.3" >0</text>
<text x="333.50" y="369.32" font-size="10.8" text-anchor="end" font-weight="bold" font-style="normal" fill="#000" stroke="#000" stroke-width="0.3" >30</text>
<text x="333.50" y="352.80" font-size="10.8" text-anchor="end" font-weight="bold" font-style="normal" fill="#000" stroke="#000" stroke-width="0.3" >60</text>
<text x="333.50" y="336.28" font-size="10.8" text-anchor="end" font-weight="bold" font-style="normal" fill="#000" stroke="#000" stroke-width="0.3" >90</text>
<text x="333.50" y="319.76" font-size="10.8" text-anchor="end" font-weight="bold" font-style="normal" fill="#000" stroke="#000" stroke-width="0.3" >120</text>
<text x="333.50" y="303.24" font-size="10.8" text-anchor="end" font-weight="bold" font-style="normal" fill="#000" stroke="#000" stroke-width="0.3" >150</text>
<text x="332.20" y="395.20" font-size="11" font-weight="bold" stroke="#000" stroke-width="0.3">10<tspan font-size="8.14" font-weight="normal" stroke-width="0.25" dx="0.3" dy="-4.40">0</tspan></text>
<text x="350.91" y="395.20" font-size="11" font-weight="bold" stroke="#000" stroke-width="0.3">10<tspan font-size="8.14" font-weight="normal" stroke-width="0.25" dx="0.3" dy="-4.40">1</tspan></text>
<text x="369.63" y="395.20" font-size="11" font-weight="bold" stroke="#000" stroke-width="0.3">10<tspan font-size="8.14" font-weight="normal" stroke-width="0.25" dx="0.3" dy="-4.40">2</tspan></text>
<text x="388.34" y="395.20" font-size="11" font-weight="bold" stroke="#000" stroke-width="0.3">10<tspan font-size="8.14" font-weight="normal" stroke-width="0.25" dx="0.3" dy="-4.40">3</tspan></text>
<text x="407.06" y="395.20" font-size="11" font-weight="bold" stroke="#000" stroke-width="0.3">10<tspan font-size="8.14" font-weight="normal" stroke-width="0.25" dx="0.3" dy="-4.40">4</tspan></text>
<text transform="translate(314.50,336.00) rotate(-90)" x="0" y="0" font-size="11.3" text-anchor="middle" font-weight="bold" stroke="#000" stroke-width="0.3">Counts</text>
<text x="420.60" y="311.00" font-size="14" text-anchor="end" font-weight="bold" font-style="normal" fill="#ff0000" stroke="#ff0000" stroke-width="0.2" >24.24%</text>
<path d="M399.30,312.00 H420.30 M399.30,309.00 V317.40" stroke="#444" stroke-width="1.0" fill="none"/>
<path d="M458.80,382.60 L459.20,382.45 L459.65,382.41 L460.10,382.47 L460.55,382.39 L461.00,382.60 L461.45,381.76 L461.90,381.91 L462.35,381.01 L462.80,381.80 L463.25,381.80 L463.70,381.22 L464.15,381.62 L464.60,381.57 L465.05,381.72 L465.50,381.77 L465.95,381.00 L466.40,381.14 L466.85,380.85 L467.30,381.56 L467.75,381.40 L468.20,381.70 L468.65,381.00 L469.10,381.85 L469.55,381.10 L470.00,380.88 L470.45,380.74 L470.90,381.60 L471.35,380.82 L471.80,381.48 L472.25,381.48 L472.70,381.67 L473.15,380.71 L473.60,380.50 L474.05,381.34 L474.50,381.39 L474.95,381.21 L475.40,380.08 L475.85,380.64 L476.30,381.23 L476.75,381.71 L477.20,381.25 L477.65,380.48 L478.10,380.18 L478.55,381.02 L479.00,381.17 L479.45,381.08 L479.90,381.63 L480.35,380.46 L480.80,381.27 L481.25,380.36 L481.70,381.50 L482.15,381.30 L482.60,380.63 L483.05,381.06 L483.50,380.40 L483.95,380.71 L484.40,381.20 L484.85,380.42 L485.30,380.31 L485.75,381.47 L486.20,379.85 L486.65,380.41 L487.10,380.27 L487.55,381.39 L488.00,380.88 L488.45,380.70 L488.90,380.04 L489.35,381.14 L489.80,380.86 L490.25,381.34 L490.70,380.51 L491.15,380.21 L491.60,381.10 L492.05,380.56 L492.50,379.99 L492.95,379.41 L493.40,379.77 L493.85,380.14 L494.30,380.48 L494.75,380.25 L495.20,379.99 L495.65,379.43 L496.10,379.38 L496.55,378.24 L497.00,378.82 L497.45,379.42 L497.90,377.58 L498.35,377.49 L498.80,377.45 L499.25,377.35 L499.70,377.55 L500.15,376.03 L500.60,373.26 L501.05,374.10 L501.50,373.43 L501.95,370.48 L502.40,368.99 L502.85,367.38 L503.30,366.46 L503.75,365.43 L504.20,368.50 L504.65,368.27 L505.10,372.01 L505.55,371.55 L506.00,372.03 L506.45,369.79 L506.90,365.49 L507.35,362.49 L507.80,357.88 L508.25,355.36 L508.70,353.27 L509.15,352.01 L509.60,352.26 L510.05,355.22 L510.50,359.74 L510.95,364.19 L511.40,363.72 L511.85,365.92 L512.30,364.76 L512.75,364.87 L513.20,362.94 L513.65,360.78 L514.10,357.77 L514.55,356.05 L515.00,351.12 L515.45,353.04 L515.90,354.59 L516.35,363.30 L516.80,366.17 L517.25,369.02 L517.70,370.85 L518.15,371.88 L518.60,373.12 L519.05,373.25 L519.50,373.10 L519.95,368.64 L520.40,367.85 L520.85,364.57 L521.30,365.23 L521.75,366.31 L522.20,367.69 L522.65,368.28 L523.10,366.94 L523.55,369.02 L524.00,373.05 L524.45,373.58 L524.90,376.97 L525.35,374.73 L525.80,366.68 L526.25,359.38 L526.70,351.40 L527.15,340.54 L527.60,327.31 L528.05,322.95 L528.50,318.97 L528.95,319.86 L529.40,323.23 L529.85,326.73 L530.30,331.31 L530.75,340.93 L531.20,352.83 L531.65,368.07 L532.10,375.25 L532.55,378.00 L533.00,378.99 L533.45,379.95 L533.90,378.74 L534.35,379.33 L534.80,379.69 L535.25,381.13 L535.70,380.37 L536.15,380.73 L536.60,381.18 L537.05,381.11 L537.50,380.58 L537.95,380.78 L538.40,381.12 L538.85,381.03 L539.30,381.55 L539.75,381.40 L540.20,381.51 L540.65,381.43 L541.10,381.75 L541.55,381.88 L542.00,382.00 L542.45,382.27 L542.90,381.56 L543.35,382.19 L543.70,382.32 L543.90,382.60 Z" fill="#636363" stroke="#6a6a6a" stroke-width="0.6"/>
<path d="M458.80,298.20 H543.90 V382.60" fill="none" stroke="#606060" stroke-width="1.25"/>
<path d="M458.80,297.70 V382.60 H544.40" fill="none" stroke="#000" stroke-width="1.3"/>
<path d="M455.80,382.60 H458.80 M456.80,379.22 H458.80 M456.80,375.85 H458.80 M456.80,372.47 H458.80 M456.80,369.10 H458.80 M455.80,365.72 H458.80 M456.80,362.34 H458.80 M456.80,358.97 H458.80 M456.80,355.59 H458.80 M456.80,352.22 H458.80 M455.80,348.84 H458.80 M456.80,345.46 H458.80 M456.80,342.09 H458.80 M456.80,338.71 H458.80 M456.80,335.34 H458.80 M455.80,331.96 H458.80 M456.80,328.58 H458.80 M456.80,325.21 H458.80 M456.80,321.83 H458.80 M456.80,318.46 H458.80 M455.80,315.08 H458.80 M456.80,311.70 H458.80 M456.80,308.33 H458.80 M456.80,304.95 H458.80 M456.80,301.58 H458.80 M455.80,298.20 H458.80" stroke="#333" stroke-width="0.9"/>
<path d="M458.80,382.60 V385.60 M465.20,382.60 V384.40 M468.95,382.60 V384.40 M471.61,382.60 V384.40 M473.67,382.60 V384.40 M475.36,382.60 V384.40 M476.78,382.60 V384.40 M478.01,382.60 V384.40 M479.10,382.60 V384.40 M480.07,382.60 V385.60 M486.48,382.60 V384.40 M490.23,382.60 V384.40 M492.88,382.60 V384.40 M494.95,382.60 V384.40 M496.63,382.60 V384.40 M498.05,382.60 V384.40 M499.29,382.60 V384.40 M500.38,382.60 V384.40 M501.35,382.60 V385.60 M507.75,382.60 V384.40 M511.50,382.60 V384.40 M514.16,382.60 V384.40 M516.22,382.60 V384.40 M517.91,382.60 V384.40 M519.33,382.60 V384.40 M520.56,382.60 V384.40 M521.65,382.60 V384.40 M522.62,382.60 V385.60 M529.03,382.60 V384.40 M532.78,382.60 V384.40 M535.43,382.60 V384.40 M537.50,382.60 V384.40 M539.18,382.60 V384.40 M540.60,382.60 V384.40 M541.84,382.60 V384.40 M542.93,382.60 V384.40 M543.90,382.60 V385.60" stroke="#333" stroke-width="0.9"/>
<text x="454.80" y="387.24" font-size="10.8" text-anchor="end" font-weight="bold" font-style="normal" fill="#000" stroke="#000" stroke-width="0.3" >0</text>
<text x="454.80" y="370.36" font-size="10.8" text-anchor="end" font-weight="bold" font-style="normal" fill="#000" stroke="#000" stroke-width="0.3" >30</text>
<text x="454.80" y="353.48" font-size="10.8" text-anchor="end" font-weight="bold" font-style="normal" fill="#000" stroke="#000" stroke-width="0.3" >60</text>
<text x="454.80" y="336.60" font-size="10.8" text-anchor="end" font-weight="bold" font-style="normal" fill="#000" stroke="#000" stroke-width="0.3" >90</text>
<text x="454.80" y="319.72" font-size="10.8" text-anchor="end" font-weight="bold" font-style="normal" fill="#000" stroke="#000" stroke-width="0.3" >120</text>
<text x="454.80" y="302.84" font-size="10.8" text-anchor="end" font-weight="bold" font-style="normal" fill="#000" stroke="#000" stroke-width="0.3" >150</text>
<text x="455.80" y="395.20" font-size="11" font-weight="bold" stroke="#000" stroke-width="0.3">10<tspan font-size="8.14" font-weight="normal" stroke-width="0.25" dx="0.3" dy="-4.40">0</tspan></text>
<text x="474.59" y="395.20" font-size="11" font-weight="bold" stroke="#000" stroke-width="0.3">10<tspan font-size="8.14" font-weight="normal" stroke-width="0.25" dx="0.3" dy="-4.40">1</tspan></text>
<text x="493.38" y="395.20" font-size="11" font-weight="bold" stroke="#000" stroke-width="0.3">10<tspan font-size="8.14" font-weight="normal" stroke-width="0.25" dx="0.3" dy="-4.40">2</tspan></text>
<text x="512.17" y="395.20" font-size="11" font-weight="bold" stroke="#000" stroke-width="0.3">10<tspan font-size="8.14" font-weight="normal" stroke-width="0.25" dx="0.3" dy="-4.40">3</tspan></text>
<text x="530.96" y="395.20" font-size="11" font-weight="bold" stroke="#000" stroke-width="0.3">10<tspan font-size="8.14" font-weight="normal" stroke-width="0.25" dx="0.3" dy="-4.40">4</tspan></text>
<text transform="translate(436.40,336.00) rotate(-90)" x="0" y="0" font-size="11.3" text-anchor="middle" font-weight="bold" stroke="#000" stroke-width="0.3">Counts</text>
<text x="544.00" y="311.00" font-size="14" text-anchor="end" font-weight="bold" font-style="normal" fill="#ff0000" stroke="#ff0000" stroke-width="0.2" >39.82%</text>
<path d="M522.10,311.70 H543.90 M522.10,310.00 V317.40" stroke="#444" stroke-width="1.0" fill="none"/>
<path d="M99.00,499.54 L99.45,499.64 L99.90,500.30 L100.35,499.66 L100.80,499.62 L101.25,499.32 L101.70,499.48 L102.15,499.64 L102.60,500.20 L103.05,500.11 L103.50,499.78 L103.95,499.72 L104.40,500.15 L104.85,499.97 L105.30,499.98 L105.75,499.84 L106.20,499.76 L106.65,499.94 L107.10,500.22 L107.55,499.51 L108.00,499.40 L108.45,499.89 L108.90,499.57 L109.35,499.73 L109.80,499.67 L110.25,499.72 L110.70,500.08 L111.15,499.70 L111.60,499.57 L112.05,500.12 L112.50,499.30 L112.95,499.26 L113.40,499.34 L113.85,499.29 L114.30,499.64 L114.75,499.95 L115.20,500.02 L115.65,500.07 L116.10,499.79 L116.55,499.83 L117.00,499.61 L117.45,500.30 L117.90,499.10 L118.35,499.09 L118.80,499.75 L119.25,499.52 L119.70,499.56 L120.15,499.60 L120.60,499.73 L121.05,499.68 L121.50,499.87 L121.95,499.53 L122.40,499.57 L122.85,499.43 L123.30,499.77 L123.75,499.45 L124.20,499.40 L124.65,499.15 L125.10,499.62 L125.55,498.99 L126.00,498.65 L126.45,498.62 L126.90,498.81 L127.35,498.66 L127.80,498.32 L128.25,497.62 L128.70,496.92 L129.15,497.43 L129.60,497.36 L130.05,496.41 L130.50,495.69 L130.95,495.16 L131.40,493.37 L131.85,490.78 L132.30,487.95 L132.75,487.82 L133.20,485.94 L133.65,483.09 L134.10,483.60 L134.55,481.04 L135.00,479.28 L135.45,477.67 L135.90,475.34 L136.35,470.27 L136.80,466.06 L137.25,459.37 L137.70,453.24 L138.15,445.53 L138.60,446.61 L139.05,447.06 L139.50,450.62 L139.95,454.15 L140.40,460.29 L140.85,465.79 L141.30,474.08 L141.75,478.24 L142.20,478.74 L142.65,478.49 L143.10,473.26 L143.55,469.71 L144.00,463.94 L144.45,462.37 L144.90,465.89 L145.35,471.76 L145.80,475.33 L146.25,479.53 L146.70,485.40 L147.15,489.94 L147.60,493.16 L148.05,490.69 L148.50,486.59 L148.95,487.27 L149.40,483.86 L149.85,483.50 L150.30,486.14 L150.75,487.98 L151.20,491.77 L151.65,494.52 L152.10,494.75 L152.55,494.94 L153.00,494.71 L153.45,493.95 L153.90,494.38 L154.35,493.88 L154.80,493.50 L155.25,493.74 L155.70,492.23 L156.15,493.82 L156.60,494.82 L157.05,495.88 L157.50,496.97 L157.95,496.62 L158.40,497.66 L158.85,498.27 L159.30,497.90 L159.75,497.47 L160.20,497.35 L160.65,496.17 L161.10,497.14 L161.55,495.83 L162.00,495.79 L162.45,496.48 L162.90,495.60 L163.35,495.81 L163.80,495.73 L164.25,496.72 L164.70,496.74 L165.15,498.18 L165.60,498.16 L166.05,497.40 L166.50,496.70 L166.95,495.62 L167.40,493.84 L167.85,489.71 L168.30,490.49 L168.75,487.49 L169.20,485.37 L169.65,486.14 L170.10,489.71 L170.55,493.10 L171.00,492.73 L171.45,496.13 L171.90,498.07 L172.35,498.11 L172.80,498.18 L173.25,499.88 L173.70,498.85 L174.15,499.25 L174.60,500.30 L175.05,499.58 L175.50,500.30 L175.95,499.53 L176.40,499.75 L176.85,499.22 L177.30,500.04 L177.75,499.86 L178.20,499.56 L178.65,500.04 L179.10,500.06 L179.55,499.97 L180.00,499.88 L180.45,500.17 L180.90,499.72 L181.35,499.71 L181.80,499.84 L182.25,499.54 L182.40,500.22" fill="none" stroke="#000" stroke-width="1.4" stroke-linejoin="round"/>
<path d="M98.80,418.00 H182.50 V500.30" fill="none" stroke="#606060" stroke-width="1.25"/>
<path d="M98.80,417.50 V500.30 H183.00" fill="none" stroke="#000" stroke-width="1.3"/>
<path d="M95.80,500.30 H98.80 M96.80,497.01 H98.80 M96.80,493.72 H98.80 M96.80,490.42 H98.80 M96.80,487.13 H98.80 M95.80,483.84 H98.80 M96.80,480.55 H98.80 M96.80,477.26 H98.80 M96.80,473.96 H98.80 M96.80,470.67 H98.80 M95.80,467.38 H98.80 M96.80,464.09 H98.80 M96.80,460.80 H98.80 M96.80,457.50 H98.80 M96.80,454.21 H98.80 M95.80,450.92 H98.80 M96.80,447.63 H98.80 M96.80,444.34 H98.80 M96.80,441.04 H98.80 M96.80,437.75 H98.80 M95.80,434.46 H98.80 M96.80,431.17 H98.80 M96.80,427.88 H98.80 M96.80,424.58 H98.80 M96.80,421.29 H98.80 M95.80,418.00 H98.80" stroke="#333" stroke-width="0.9"/>
<path d="M98.80,500.30 V503.30 M105.10,500.30 V502.10 M108.78,500.30 V502.10 M111.40,500.30 V502.10 M113.43,500.30 V502.10 M115.08,500.30 V502.10 M116.48,500.30 V502.10 M117.70,500.30 V502.10 M118.77,500.30 V502.10 M119.72,500.30 V503.30 M126.02,500.30 V502.10 M129.71,500.30 V502.10 M132.32,500.30 V502.10 M134.35,500.30 V502.10 M136.01,500.30 V502.10 M137.41,500.30 V502.10 M138.62,500.30 V502.10 M139.69,500.30 V502.10 M140.65,500.30 V503.30 M146.95,500.30 V502.10 M150.63,500.30 V502.10 M153.25,500.30 V502.10 M155.28,500.30 V502.10 M156.93,500.30 V502.10 M158.33,500.30 V502.10 M159.55,500.30 V502.10 M160.62,500.30 V502.10 M161.57,500.30 V503.30 M167.87,500.30 V502.10 M171.56,500.30 V502.10 M174.17,500.30 V502.10 M176.20,500.30 V502.10 M177.86,500.30 V502.10 M179.26,500.30 V502.10 M180.47,500.30 V502.10 M181.54,500.30 V502.10 M182.50,500.30 V503.30" stroke="#333" stroke-width="0.9"/>
<text x="95.80" y="503.43" font-size="10.8" text-anchor="end" font-weight="bold" font-style="normal" fill="#000" stroke="#000" stroke-width="0.3" >0</text>
<text x="95.80" y="486.97" font-size="10.8" text-anchor="end" font-weight="bold" font-style="normal" fill="#000" stroke="#000" stroke-width="0.3" >30</text>
<text x="95.80" y="470.51" font-size="10.8" text-anchor="end" font-weight="bold" font-style="normal" fill="#000" stroke="#000" stroke-width="0.3" >60</text>
<text x="95.80" y="454.05" font-size="10.8" text-anchor="end" font-weight="bold" font-style="normal" fill="#000" stroke="#000" stroke-width="0.3" >90</text>
<text x="95.80" y="437.59" font-size="10.8" text-anchor="end" font-weight="bold" font-style="normal" fill="#000" stroke="#000" stroke-width="0.3" >120</text>
<text x="95.80" y="421.13" font-size="10.8" text-anchor="end" font-weight="bold" font-style="normal" fill="#000" stroke="#000" stroke-width="0.3" >150</text>
<text x="94.80" y="515.00" font-size="11" font-weight="bold" stroke="#000" stroke-width="0.3">10<tspan font-size="8.14" font-weight="normal" stroke-width="0.25" dx="0.3" dy="-4.40">0</tspan></text>
<text x="113.61" y="515.00" font-size="11" font-weight="bold" stroke="#000" stroke-width="0.3">10<tspan font-size="8.14" font-weight="normal" stroke-width="0.25" dx="0.3" dy="-4.40">1</tspan></text>
<text x="132.43" y="515.00" font-size="11" font-weight="bold" stroke="#000" stroke-width="0.3">10<tspan font-size="8.14" font-weight="normal" stroke-width="0.25" dx="0.3" dy="-4.40">2</tspan></text>
<text x="151.24" y="515.00" font-size="11" font-weight="bold" stroke="#000" stroke-width="0.3">10<tspan font-size="8.14" font-weight="normal" stroke-width="0.25" dx="0.3" dy="-4.40">3</tspan></text>
<text x="170.06" y="515.00" font-size="11" font-weight="bold" stroke="#000" stroke-width="0.3">10<tspan font-size="8.14" font-weight="normal" stroke-width="0.25" dx="0.3" dy="-4.40">4</tspan></text>
<text transform="translate(75.60,456.20) rotate(-90)" x="0" y="0" font-size="11.3" text-anchor="middle" font-weight="bold" stroke="#000" stroke-width="0.3">Counts</text>
<text x="180.60" y="430.00" font-size="14" text-anchor="end" font-weight="bold" font-style="normal" fill="#ff0000" stroke="#ff0000" stroke-width="0.2" >8.25%</text>
<path d="M161.40,437.50 H182.50 M161.40,431.80 V442.40" stroke="#444" stroke-width="1.0" fill="none"/>
<path d="M214.40,502.20 L215.00,501.68 L215.45,502.11 L215.90,501.70 L216.35,502.20 L216.80,501.80 L217.25,501.88 L217.70,501.95 L218.15,501.96 L218.60,501.87 L219.05,501.96 L219.50,502.20 L219.95,501.89 L220.40,501.86 L220.85,501.84 L221.30,501.99 L221.75,501.70 L222.20,501.41 L222.65,501.71 L223.10,501.78 L223.55,501.20 L224.00,501.31 L224.45,501.31 L224.90,501.23 L225.35,501.68 L225.80,501.61 L226.25,501.21 L226.70,501.72 L227.15,501.57 L227.60,501.40 L228.05,501.39 L228.50,501.58 L228.95,501.16 L229.40,501.52 L229.85,501.21 L230.30,501.08 L230.75,501.19 L231.20,501.14 L231.65,501.74 L232.10,501.77 L232.55,501.51 L233.00,501.12 L233.45,500.74 L233.90,501.63 L234.35,501.08 L234.80,501.45 L235.25,501.37 L235.70,501.17 L236.15,500.78 L236.60,500.91 L237.05,500.51 L237.50,501.26 L237.95,500.50 L238.40,500.42 L238.85,500.69 L239.30,500.47 L239.75,500.81 L240.20,500.96 L240.65,500.60 L241.10,500.62 L241.55,499.03 L242.00,500.39 L242.45,499.35 L242.90,499.87 L243.35,499.66 L243.80,499.26 L244.25,499.80 L244.70,498.66 L245.15,498.65 L245.60,499.41 L246.05,497.79 L246.50,497.39 L246.95,496.98 L247.40,495.62 L247.85,496.51 L248.30,494.69 L248.75,492.96 L249.20,492.90 L249.65,488.83 L250.10,489.45 L250.55,487.19 L251.00,483.25 L251.45,482.63 L251.90,479.17 L252.35,478.05 L252.80,473.43 L253.25,471.56 L253.70,466.08 L254.15,462.75 L254.60,455.38 L255.05,451.75 L255.50,449.20 L255.95,450.63 L256.40,455.21 L256.85,463.11 L257.30,470.52 L257.75,472.58 L258.20,478.37 L258.65,480.98 L259.10,479.34 L259.55,477.52 L260.00,470.60 L260.45,465.47 L260.90,463.79 L261.35,463.66 L261.80,467.33 L262.25,472.19 L262.70,476.54 L263.15,477.99 L263.60,482.44 L264.05,484.21 L264.50,486.92 L264.95,490.89 L265.40,490.25 L265.85,488.47 L266.30,487.03 L266.75,485.38 L267.20,484.37 L267.65,483.67 L268.10,485.67 L268.55,487.19 L269.00,488.48 L269.45,492.04 L269.90,492.40 L270.35,495.87 L270.80,494.00 L271.25,494.96 L271.70,496.72 L272.15,494.19 L272.60,494.96 L273.05,495.45 L273.50,496.75 L273.95,496.79 L274.40,495.99 L274.85,498.26 L275.30,500.38 L275.75,499.16 L276.20,499.49 L276.65,498.75 L277.10,498.51 L277.55,498.24 L278.00,497.42 L278.45,494.90 L278.90,495.96 L279.35,491.34 L279.80,491.45 L280.25,487.72 L280.70,481.15 L281.15,477.84 L281.60,478.50 L282.05,478.09 L282.50,483.46 L282.95,485.87 L283.40,486.94 L283.85,490.86 L284.30,494.62 L284.75,495.54 L285.20,497.59 L285.65,499.49 L286.10,500.70 L286.55,500.27 L287.00,500.17 L287.45,500.23 L287.90,499.99 L288.35,500.95 L288.80,501.15 L289.25,501.09 L289.70,500.74 L290.15,501.55 L290.60,500.86 L291.05,502.20 L291.50,501.14 L291.95,501.66 L292.40,501.34 L292.85,501.31 L293.30,501.93 L293.75,501.62 L294.20,501.55 L294.65,501.47 L295.10,501.96 L295.55,502.00 L296.00,502.20 L296.45,501.00 L296.90,501.83 L297.35,501.86 L297.80,502.20 L298.25,501.58 L298.70,502.02 L299.15,501.49 L299.50,501.68 L300.50,502.20 Z" fill="#636363" stroke="#6a6a6a" stroke-width="0.6"/>
<path d="M214.40,417.60 H300.50 V502.20" fill="none" stroke="#606060" stroke-width="1.25"/>
<path d="M214.40,417.10 V502.20 H301.00" fill="none" stroke="#000" stroke-width="1.3"/>
<path d="M211.40,502.20 H214.40 M212.40,498.82 H214.40 M212.40,495.43 H214.40 M212.40,492.05 H214.40 M212.40,488.66 H214.40 M211.40,485.28 H214.40 M212.40,481.90 H214.40 M212.40,478.51 H214.40 M212.40,475.13 H214.40 M212.40,471.74 H214.40 M211.40,468.36 H214.40 M212.40,464.98 H214.40 M212.40,461.59 H214.40 M212.40,458.21 H214.40 M212.40,454.82 H214.40 M211.40,451.44 H214.40 M212.40,448.06 H214.40 M212.40,444.67 H214.40 M212.40,441.29 H214.40 M212.40,437.90 H214.40 M211.40,434.52 H214.40 M212.40,431.14 H214.40 M212.40,427.75 H214.40 M212.40,424.37 H214.40 M212.40,420.98 H214.40 M211.40,417.60 H214.40" stroke="#333" stroke-width="0.9"/>
<path d="M214.40,502.20 V505.20 M220.88,502.20 V504.00 M224.67,502.20 V504.00 M227.36,502.20 V504.00 M229.45,502.20 V504.00 M231.15,502.20 V504.00 M232.59,502.20 V504.00 M233.84,502.20 V504.00 M234.94,502.20 V504.00 M235.93,502.20 V505.20 M242.40,502.20 V504.00 M246.20,502.20 V504.00 M248.88,502.20 V504.00 M250.97,502.20 V504.00 M252.67,502.20 V504.00 M254.12,502.20 V504.00 M255.36,502.20 V504.00 M256.47,502.20 V504.00 M257.45,502.20 V505.20 M263.93,502.20 V504.00 M267.72,502.20 V504.00 M270.41,502.20 V504.00 M272.50,502.20 V504.00 M274.20,502.20 V504.00 M275.64,502.20 V504.00 M276.89,502.20 V504.00 M277.99,502.20 V504.00 M278.98,502.20 V505.20 M285.45,502.20 V504.00 M289.25,502.20 V504.00 M291.93,502.20 V504.00 M294.02,502.20 V504.00 M295.72,502.20 V504.00 M297.17,502.20 V504.00 M298.41,502.20 V504.00 M299.52,502.20 V504.00 M300.50,502.20 V505.20" stroke="#333" stroke-width="0.9"/>
<text x="210.40" y="506.84" font-size="10.8" text-anchor="end" font-weight="bold" font-style="normal" fill="#000" stroke="#000" stroke-width="0.3" >0</text>
<text x="210.40" y="489.92" font-size="10.8" text-anchor="end" font-weight="bold" font-style="normal" fill="#000" stroke="#000" stroke-width="0.3" >30</text>
<text x="210.40" y="473.00" font-size="10.8" text-anchor="end" font-weight="bold" font-style="normal" fill="#000" stroke="#000" stroke-width="0.3" >60</text>
<text x="210.40" y="456.08" font-size="10.8" text-anchor="end" font-weight="bold" font-style="normal" fill="#000" stroke="#000" stroke-width="0.3" >90</text>
<text x="210.40" y="439.16" font-size="10.8" text-anchor="end" font-weight="bold" font-style="normal" fill="#000" stroke="#000" stroke-width="0.3" >120</text>
<text x="210.40" y="422.24" font-size="10.8" text-anchor="end" font-weight="bold" font-style="normal" fill="#000" stroke="#000" stroke-width="0.3" >150</text>
<text x="210.20" y="515.00" font-size="11" font-weight="bold" stroke="#000" stroke-width="0.3">10<tspan font-size="8.14" font-weight="normal" stroke-width="0.25" dx="0.3" dy="-4.40">0</tspan></text>
<text x="229.06" y="515.00" font-size="11" font-weight="bold" stroke="#000" stroke-width="0.3">10<tspan font-size="8.14" font-weight="normal" stroke-width="0.25" dx="0.3" dy="-4.40">1</tspan></text>
<text x="247.93" y="515.00" font-size="11" font-weight="bold" stroke="#000" stroke-width="0.3">10<tspan font-size="8.14" font-weight="normal" stroke-width="0.25" dx="0.3" dy="-4.40">2</tspan></text>
<text x="266.79" y="515.00" font-size="11" font-weight="bold" stroke="#000" stroke-width="0.3">10<tspan font-size="8.14" font-weight="normal" stroke-width="0.25" dx="0.3" dy="-4.40">3</tspan></text>
<text x="285.66" y="515.00" font-size="11" font-weight="bold" stroke="#000" stroke-width="0.3">10<tspan font-size="8.14" font-weight="normal" stroke-width="0.25" dx="0.3" dy="-4.40">4</tspan></text>
<text transform="translate(194.60,456.20) rotate(-90)" x="0" y="0" font-size="11.3" text-anchor="middle" font-weight="bold" stroke="#000" stroke-width="0.3">Counts</text>
<text x="298.40" y="430.00" font-size="14" text-anchor="end" font-weight="bold" font-style="normal" fill="#ff0000" stroke="#ff0000" stroke-width="0.2" >9.11%</text>
<path d="M278.90,431.70 H300.50 M278.90,426.00 V437.70" stroke="#444" stroke-width="1.0" fill="none"/>
<path d="M337.50,499.90 L337.60,499.73 L338.05,499.45 L338.50,499.90 L338.95,499.65 L339.40,499.68 L339.85,499.84 L340.30,499.43 L340.75,499.44 L341.20,498.94 L341.65,499.90 L342.10,499.50 L342.55,499.54 L343.00,499.38 L343.45,499.07 L343.90,499.05 L344.35,499.14 L344.80,499.27 L345.25,498.93 L345.70,498.95 L346.15,499.64 L346.60,499.10 L347.05,499.45 L347.50,499.37 L347.95,498.91 L348.40,498.92 L348.85,498.88 L349.30,499.20 L349.75,498.96 L350.20,499.18 L350.65,498.73 L351.10,498.62 L351.55,498.24 L352.00,498.40 L352.45,499.10 L352.90,498.97 L353.35,499.13 L353.80,498.70 L354.25,498.12 L354.70,498.56 L355.15,499.56 L355.60,499.24 L356.05,499.25 L356.50,498.62 L356.95,498.80 L357.40,498.70 L357.85,498.18 L358.30,499.09 L358.75,499.09 L359.20,498.12 L359.65,498.68 L360.10,499.07 L360.55,499.50 L361.00,499.33 L361.45,499.65 L361.90,498.78 L362.35,498.78 L362.80,498.46 L363.25,498.85 L363.70,499.04 L364.15,499.03 L364.60,498.04 L365.05,499.27 L365.50,498.44 L365.95,498.34 L366.40,497.91 L366.85,498.12 L367.30,497.48 L367.75,497.04 L368.20,497.20 L368.65,497.04 L369.10,496.47 L369.55,495.98 L370.00,493.97 L370.45,492.21 L370.90,489.66 L371.35,486.53 L371.80,484.75 L372.25,485.06 L372.70,482.93 L373.15,482.28 L373.60,480.88 L374.05,480.53 L374.50,478.92 L374.95,477.72 L375.40,475.00 L375.85,469.65 L376.30,465.35 L376.75,461.55 L377.20,456.37 L377.65,452.52 L378.10,452.95 L378.55,457.91 L379.00,461.13 L379.45,467.26 L379.90,473.83 L380.35,480.87 L380.80,483.20 L381.25,486.35 L381.70,479.95 L382.15,476.53 L382.60,469.70 L383.05,468.10 L383.50,464.31 L383.95,464.38 L384.40,467.26 L384.85,473.43 L385.30,479.77 L385.75,481.51 L386.20,483.57 L386.65,483.03 L387.10,481.63 L387.55,482.41 L388.00,482.18 L388.45,481.77 L388.90,483.46 L389.35,485.68 L389.80,486.05 L390.25,487.63 L390.70,487.63 L391.15,492.74 L391.60,493.07 L392.05,495.78 L392.50,495.68 L392.95,495.20 L393.40,493.94 L393.85,492.40 L394.30,490.46 L394.75,491.87 L395.20,489.36 L395.65,489.62 L396.10,490.46 L396.55,493.13 L397.00,493.04 L397.45,494.96 L397.90,495.25 L398.35,495.60 L398.80,494.66 L399.25,493.77 L399.70,492.99 L400.15,493.22 L400.60,491.15 L401.05,489.33 L401.50,488.86 L401.95,482.69 L402.40,481.50 L402.85,476.28 L403.30,474.25 L403.75,473.71 L404.20,478.17 L404.65,483.60 L405.10,488.31 L405.55,491.35 L406.00,491.29 L406.45,493.98 L406.90,495.80 L407.35,496.26 L407.80,497.73 L408.25,497.91 L408.70,498.04 L409.15,497.25 L409.60,497.44 L410.05,498.19 L410.50,498.83 L410.95,498.15 L411.40,498.29 L411.85,498.23 L412.30,498.18 L412.75,498.55 L413.20,498.11 L413.65,498.18 L414.10,498.44 L414.55,498.69 L415.00,498.75 L415.45,498.35 L415.90,499.04 L416.35,498.74 L416.80,499.00 L417.25,499.28 L417.70,498.65 L418.15,498.95 L418.60,499.02 L419.05,498.87 L419.50,499.79 L419.95,499.59 L420.30,499.66 L420.40,499.90 Z" fill="#636363" stroke="#6a6a6a" stroke-width="0.6"/>
<path d="M337.50,417.40 H420.40 V499.90" fill="none" stroke="#606060" stroke-width="1.25"/>
<path d="M337.50,416.90 V499.90 H420.90" fill="none" stroke="#000" stroke-width="1.3"/>
<path d="M334.50,499.90 H337.50 M335.50,496.60 H337.50 M335.50,493.30 H337.50 M335.50,490.00 H337.50 M335.50,486.70 H337.50 M334.50,483.40 H337.50 M335.50,480.10 H337.50 M335.50,476.80 H337.50 M335.50,473.50 H337.50 M335.50,470.20 H337.50 M334.50,466.90 H337.50 M335.50,463.60 H337.50 M335.50,460.30 H337.50 M335.50,457.00 H337.50 M335.50,453.70 H337.50 M334.50,450.40 H337.50 M335.50,447.10 H337.50 M335.50,443.80 H337.50 M335.50,440.50 H337.50 M335.50,437.20 H337.50 M334.50,433.90 H337.50 M335.50,430.60 H337.50 M335.50,427.30 H337.50 M335.50,424.00 H337.50 M335.50,420.70 H337.50 M334.50,417.40 H337.50" stroke="#333" stroke-width="0.9"/>
<path d="M337.50,499.90 V502.90 M343.74,499.90 V501.70 M347.39,499.90 V501.70 M349.98,499.90 V501.70 M351.99,499.90 V501.70 M353.63,499.90 V501.70 M355.01,499.90 V501.70 M356.22,499.90 V501.70 M357.28,499.90 V501.70 M358.23,499.90 V502.90 M364.46,499.90 V501.70 M368.11,499.90 V501.70 M370.70,499.90 V501.70 M372.71,499.90 V501.70 M374.35,499.90 V501.70 M375.74,499.90 V501.70 M376.94,499.90 V501.70 M378.00,499.90 V501.70 M378.95,499.90 V502.90 M385.19,499.90 V501.70 M388.84,499.90 V501.70 M391.43,499.90 V501.70 M393.44,499.90 V501.70 M395.08,499.90 V501.70 M396.46,499.90 V501.70 M397.67,499.90 V501.70 M398.73,499.90 V501.70 M399.67,499.90 V502.90 M405.91,499.90 V501.70 M409.56,499.90 V501.70 M412.15,499.90 V501.70 M414.16,499.90 V501.70 M415.80,499.90 V501.70 M417.19,499.90 V501.70 M418.39,499.90 V501.70 M419.45,499.90 V501.70 M420.40,499.90 V502.90" stroke="#333" stroke-width="0.9"/>
<text x="333.50" y="504.54" font-size="10.8" text-anchor="end" font-weight="bold" font-style="normal" fill="#000" stroke="#000" stroke-width="0.3" >0</text>
<text x="333.50" y="488.04" font-size="10.8" text-anchor="end" font-weight="bold" font-style="normal" fill="#000" stroke="#000" stroke-width="0.3" >30</text>
<text x="333.50" y="471.54" font-size="10.8" text-anchor="end" font-weight="bold" font-style="normal" fill="#000" stroke="#000" stroke-width="0.3" >60</text>
<text x="333.50" y="455.04" font-size="10.8" text-anchor="end" font-weight="bold" font-style="normal" fill="#000" stroke="#000" stroke-width="0.3" >90</text>
<text x="333.50" y="438.54" font-size="10.8" text-anchor="end" font-weight="bold" font-style="normal" fill="#000" stroke="#000" stroke-width="0.3" >120</text>
<text x="333.50" y="422.04" font-size="10.8" text-anchor="end" font-weight="bold" font-style="normal" fill="#000" stroke="#000" stroke-width="0.3" >150</text>
<text x="334.80" y="515.00" font-size="11" font-weight="bold" stroke="#000" stroke-width="0.3">10<tspan font-size="8.14" font-weight="normal" stroke-width="0.25" dx="0.3" dy="-4.40">0</tspan></text>
<text x="353.61" y="515.00" font-size="11" font-weight="bold" stroke="#000" stroke-width="0.3">10<tspan font-size="8.14" font-weight="normal" stroke-width="0.25" dx="0.3" dy="-4.40">1</tspan></text>
<text x="372.43" y="515.00" font-size="11" font-weight="bold" stroke="#000" stroke-width="0.3">10<tspan font-size="8.14" font-weight="normal" stroke-width="0.25" dx="0.3" dy="-4.40">2</tspan></text>
<text x="391.24" y="515.00" font-size="11" font-weight="bold" stroke="#000" stroke-width="0.3">10<tspan font-size="8.14" font-weight="normal" stroke-width="0.25" dx="0.3" dy="-4.40">3</tspan></text>
<text x="410.06" y="515.00" font-size="11" font-weight="bold" stroke="#000" stroke-width="0.3">10<tspan font-size="8.14" font-weight="normal" stroke-width="0.25" dx="0.3" dy="-4.40">4</tspan></text>
<text transform="translate(314.50,456.20) rotate(-90)" x="0" y="0" font-size="11.3" text-anchor="middle" font-weight="bold" stroke="#000" stroke-width="0.3">Counts</text>
<text x="419.60" y="430.00" font-size="14" text-anchor="end" font-weight="bold" font-style="normal" fill="#ff0000" stroke="#ff0000" stroke-width="0.2" >13.38%</text>
<path d="M399.30,431.70 H420.40 M399.30,425.40 V437.00" stroke="#444" stroke-width="1.0" fill="none"/>
<path d="M459.90,499.00 L460.10,498.61 L460.55,499.00 L461.00,498.57 L461.45,498.68 L461.90,498.34 L462.35,498.37 L462.80,498.51 L463.25,498.04 L463.70,498.63 L464.15,498.73 L464.60,498.69 L465.05,498.85 L465.50,498.57 L465.95,499.00 L466.40,498.55 L466.85,498.39 L467.30,498.21 L467.75,498.59 L468.20,498.06 L468.65,498.65 L469.10,498.48 L469.55,499.00 L470.00,498.65 L470.45,498.64 L470.90,497.94 L471.35,498.22 L471.80,498.69 L472.25,498.18 L472.70,498.18 L473.15,498.38 L473.60,498.29 L474.05,498.37 L474.50,498.43 L474.95,498.79 L475.40,498.25 L475.85,497.79 L476.30,497.72 L476.75,498.24 L477.20,498.37 L477.65,498.18 L478.10,497.79 L478.55,497.95 L479.00,498.23 L479.45,497.89 L479.90,498.06 L480.35,497.79 L480.80,498.07 L481.25,498.40 L481.70,497.84 L482.15,497.56 L482.60,498.17 L483.05,497.78 L483.50,497.38 L483.95,497.78 L484.40,497.82 L484.85,496.76 L485.30,497.13 L485.75,496.94 L486.20,497.57 L486.65,496.33 L487.10,497.52 L487.55,496.79 L488.00,495.92 L488.45,495.29 L488.90,496.13 L489.35,495.63 L489.80,494.57 L490.25,495.26 L490.70,492.55 L491.15,491.55 L491.60,491.37 L492.05,489.32 L492.50,488.00 L492.95,487.39 L493.40,486.09 L493.85,483.94 L494.30,484.53 L494.75,482.34 L495.20,481.16 L495.65,476.37 L496.10,472.95 L496.55,467.21 L497.00,464.07 L497.45,463.45 L497.90,463.07 L498.35,466.83 L498.80,467.39 L499.25,469.19 L499.70,468.48 L500.15,468.45 L500.60,465.25 L501.05,463.15 L501.50,462.65 L501.95,460.94 L502.40,463.04 L502.85,467.43 L503.30,470.72 L503.75,474.72 L504.20,475.95 L504.65,476.18 L505.10,475.06 L505.55,475.37 L506.00,474.94 L506.45,474.79 L506.90,474.31 L507.35,476.65 L507.80,477.65 L508.25,480.10 L508.70,480.81 L509.15,483.08 L509.60,486.31 L510.05,492.06 L510.50,490.40 L510.95,489.18 L511.40,488.66 L511.85,489.36 L512.30,486.82 L512.75,485.15 L513.20,485.49 L513.65,487.73 L514.10,489.41 L514.55,489.42 L515.00,493.12 L515.45,492.05 L515.90,493.42 L516.35,493.04 L516.80,493.95 L517.25,492.96 L517.70,491.44 L518.15,492.90 L518.60,489.43 L519.05,492.50 L519.50,492.40 L519.95,491.43 L520.40,491.27 L520.85,491.31 L521.30,492.45 L521.75,492.46 L522.20,492.51 L522.65,492.52 L523.10,493.71 L523.55,489.51 L524.00,488.96 L524.45,487.60 L524.90,486.72 L525.35,484.08 L525.80,480.52 L526.25,474.88 L526.70,468.03 L527.15,466.86 L527.60,464.85 L528.05,470.57 L528.50,476.63 L528.95,481.42 L529.40,488.83 L529.85,492.92 L530.30,496.85 L530.75,497.19 L531.20,497.98 L531.65,498.31 L532.10,497.62 L532.55,497.98 L533.00,498.02 L533.45,497.61 L533.90,498.29 L534.35,498.16 L534.80,498.02 L535.25,497.96 L535.70,498.28 L536.15,497.81 L536.60,497.45 L537.05,498.29 L537.50,497.60 L537.95,498.85 L538.40,497.78 L538.85,498.34 L539.30,498.21 L539.75,498.38 L540.20,498.50 L540.65,498.73 L541.10,498.51 L541.55,498.08 L542.00,498.19 L542.45,498.68 L542.90,498.85 L543.30,499.00 L543.60,499.00 Z" fill="#636363" stroke="#6a6a6a" stroke-width="0.6"/>
<path d="M459.90,415.60 H543.60 V499.00" fill="none" stroke="#606060" stroke-width="1.25"/>
<path d="M459.90,415.10 V499.00 H544.10" fill="none" stroke="#000" stroke-width="1.3"/>
<path d="M456.90,499.00 H459.90 M457.90,495.66 H459.90 M457.90,492.33 H459.90 M457.90,488.99 H459.90 M457.90,485.66 H459.90 M456.90,482.32 H459.90 M457.90,478.98 H459.90 M457.90,475.65 H459.90 M457.90,472.31 H459.90 M457.90,468.98 H459.90 M456.90,465.64 H459.90 M457.90,462.30 H459.90 M457.90,458.97 H459.90 M457.90,455.63 H459.90 M457.90,452.30 H459.90 M456.90,448.96 H459.90 M457.90,445.62 H459.90 M457.90,442.29 H459.90 M457.90,438.95 H459.90 M457.90,435.62 H459.90 M456.90,432.28 H459.90 M457.90,428.94 H459.90 M457.90,425.61 H459.90 M457.90,422.27 H459.90 M457.90,418.94 H459.90 M456.90,415.60 H459.90" stroke="#333" stroke-width="0.9"/>
<path d="M459.90,499.00 V502.00 M466.20,499.00 V500.80 M469.88,499.00 V500.80 M472.50,499.00 V500.80 M474.53,499.00 V500.80 M476.18,499.00 V500.80 M477.58,499.00 V500.80 M478.80,499.00 V500.80 M479.87,499.00 V500.80 M480.82,499.00 V502.00 M487.12,499.00 V500.80 M490.81,499.00 V500.80 M493.42,499.00 V500.80 M495.45,499.00 V500.80 M497.11,499.00 V500.80 M498.51,499.00 V500.80 M499.72,499.00 V500.80 M500.79,499.00 V500.80 M501.75,499.00 V502.00 M508.05,499.00 V500.80 M511.73,499.00 V500.80 M514.35,499.00 V500.80 M516.38,499.00 V500.80 M518.03,499.00 V500.80 M519.43,499.00 V500.80 M520.65,499.00 V500.80 M521.72,499.00 V500.80 M522.67,499.00 V502.00 M528.97,499.00 V500.80 M532.66,499.00 V500.80 M535.27,499.00 V500.80 M537.30,499.00 V500.80 M538.96,499.00 V500.80 M540.36,499.00 V500.80 M541.57,499.00 V500.80 M542.64,499.00 V500.80 M543.60,499.00 V502.00" stroke="#333" stroke-width="0.9"/>
<text x="455.40" y="503.05" font-size="10.8" text-anchor="end" font-weight="bold" font-style="normal" fill="#000" stroke="#000" stroke-width="0.3" >0</text>
<text x="455.40" y="486.37" font-size="10.8" text-anchor="end" font-weight="bold" font-style="normal" fill="#000" stroke="#000" stroke-width="0.3" >30</text>
<text x="455.40" y="469.69" font-size="10.8" text-anchor="end" font-weight="bold" font-style="normal" fill="#000" stroke="#000" stroke-width="0.3" >60</text>
<text x="455.40" y="453.01" font-size="10.8" text-anchor="end" font-weight="bold" font-style="normal" fill="#000" stroke="#000" stroke-width="0.3" >90</text>
<text x="455.40" y="436.33" font-size="10.8" text-anchor="end" font-weight="bold" font-style="normal" fill="#000" stroke="#000" stroke-width="0.3" >120</text>
<text x="455.40" y="419.65" font-size="10.8" text-anchor="end" font-weight="bold" font-style="normal" fill="#000" stroke="#000" stroke-width="0.3" >150</text>
<text x="455.40" y="513.70" font-size="11" font-weight="bold" stroke="#000" stroke-width="0.3">10<tspan font-size="8.14" font-weight="normal" stroke-width="0.25" dx="0.3" dy="-4.40">0</tspan></text>
<text x="474.29" y="513.70" font-size="11" font-weight="bold" stroke="#000" stroke-width="0.3">10<tspan font-size="8.14" font-weight="normal" stroke-width="0.25" dx="0.3" dy="-4.40">1</tspan></text>
<text x="493.18" y="513.70" font-size="11" font-weight="bold" stroke="#000" stroke-width="0.3">10<tspan font-size="8.14" font-weight="normal" stroke-width="0.25" dx="0.3" dy="-4.40">2</tspan></text>
<text x="512.07" y="513.70" font-size="11" font-weight="bold" stroke="#000" stroke-width="0.3">10<tspan font-size="8.14" font-weight="normal" stroke-width="0.25" dx="0.3" dy="-4.40">3</tspan></text>
<text x="530.96" y="513.70" font-size="11" font-weight="bold" stroke="#000" stroke-width="0.3">10<tspan font-size="8.14" font-weight="normal" stroke-width="0.25" dx="0.3" dy="-4.40">4</tspan></text>
<text transform="translate(436.40,456.20) rotate(-90)" x="0" y="0" font-size="11.3" text-anchor="middle" font-weight="bold" stroke="#000" stroke-width="0.3">Counts</text>
<text x="543.50" y="430.00" font-size="14" text-anchor="end" font-weight="bold" font-style="normal" fill="#ff0000" stroke="#ff0000" stroke-width="0.2" >16.50%</text>
<path d="M522.50,430.30 H543.60 M522.50,429.70 V435.60" stroke="#444" stroke-width="1.0" fill="none"/>
<path d="M93.20,697.60 L93.30,671.44 L93.75,665.94 L94.20,665.28 L94.65,664.09 L95.10,663.50 L95.55,663.36 L96.00,659.88 L96.45,660.01 L96.90,661.81 L97.35,659.58 L97.80,662.85 L98.25,661.94 L98.70,665.17 L99.15,665.66 L99.60,665.72 L100.05,667.01 L100.50,667.55 L100.95,670.97 L101.40,669.21 L101.85,670.52 L102.30,673.13 L102.75,673.52 L103.20,675.91 L103.65,676.01 L104.10,678.19 L104.55,677.27 L105.00,677.96 L105.45,677.29 L105.90,678.19 L106.35,678.34 L106.80,679.36 L107.25,678.54 L107.70,677.82 L108.15,676.19 L108.60,677.81 L109.05,673.68 L109.50,675.72 L109.95,673.68 L110.40,672.22 L110.85,672.06 L111.30,668.68 L111.75,670.09 L112.20,667.49 L112.65,667.51 L113.10,669.12 L113.55,667.66 L114.00,666.25 L114.45,667.95 L114.90,667.31 L115.35,668.11 L115.80,667.61 L116.25,668.50 L116.70,668.45 L117.15,667.81 L117.60,668.01 L118.05,670.34 L118.50,670.98 L118.95,670.54 L119.40,671.04 L119.85,669.54 L120.30,664.05 L120.75,664.25 L121.20,661.07 L121.65,662.79 L122.10,659.00 L122.55,661.94 L123.00,658.86 L123.45,656.29 L123.90,657.08 L124.35,652.72 L124.80,655.97 L125.25,659.71 L125.70,660.33 L126.15,663.78 L126.60,668.21 L127.05,674.52 L127.50,674.99 L127.95,678.88 L128.40,682.30 L128.85,684.57 L129.30,688.26 L129.75,688.40 L130.20,686.83 L130.65,688.03 L131.10,690.91 L131.55,691.80 L132.00,691.11 L132.45,690.87 L132.90,691.54 L133.35,693.52 L133.80,692.59 L134.25,692.83 L134.70,691.98 L135.15,692.37 L135.60,693.07 L136.05,692.68 L136.50,694.01 L136.95,692.68 L137.40,694.21 L137.85,693.71 L138.30,693.42 L138.75,694.77 L139.20,694.69 L139.65,695.47 L140.10,694.21 L140.55,694.41 L141.00,694.64 L141.45,694.14 L141.90,695.90 L142.35,694.57 L142.80,694.54 L143.25,694.80 L143.70,694.16 L144.15,693.58 L144.60,695.00 L145.05,695.34 L145.50,695.15 L145.95,694.74 L146.40,694.45 L146.85,695.37 L147.30,694.25 L147.75,695.52 L148.20,694.42 L148.65,694.69 L149.10,694.70 L149.55,693.73 L150.00,695.21 L150.45,695.19 L150.90,694.86 L151.35,694.69 L151.80,696.01 L152.25,695.16 L152.70,695.83 L153.15,695.23 L153.60,695.03 L154.05,695.88 L154.50,696.14 L154.95,696.19 L155.40,697.60 L155.85,696.27 L156.30,696.48 L156.75,696.73 L157.20,696.99 L157.65,697.15 L158.10,696.96 L158.55,696.46 L159.00,696.99 L159.45,696.47 L159.90,697.60 L160.35,697.19 L160.80,696.94 L161.25,697.06 L161.70,697.60 L162.15,697.33 L162.60,696.66 L163.05,697.58 L163.50,697.48 L163.95,697.53 L164.40,697.35 L164.85,696.94 L165.30,696.97 L165.75,697.60 L166.20,696.69 L166.65,697.41 L167.10,697.42 L167.55,696.66 L168.00,697.27 L168.45,697.60 L168.90,697.48 L169.35,697.52 L169.80,697.60 L170.25,697.42 L170.70,697.03 L171.15,697.22 L171.20,697.60 L171.60,697.60 Z" fill="#636363" stroke="#6a6a6a" stroke-width="0.6"/>
<path d="M93.90,637.50 L94.35,654.56 L94.80,654.49 L95.25,653.43 L95.70,651.11 L96.15,651.33 L96.60,650.21 L97.05,648.41 L97.50,651.16 L97.95,653.04 L98.40,651.91 L98.85,654.40 L99.30,655.78 L99.75,657.35 L100.20,659.30 L100.65,661.85 L101.10,662.30 L101.55,665.33 L102.00,668.40 L102.45,667.43 L102.90,670.44 L103.35,670.12 L103.80,674.05 L104.25,674.18 L104.70,675.82 L105.15,680.30 L105.60,679.07 L106.05,678.28 L106.50,674.52 L106.95,677.51 L107.40,673.07 L107.85,671.37 L108.30,669.96 L108.75,667.22 L109.20,665.98 L109.65,662.88 L110.10,660.44 L110.55,658.16 L111.00,655.79 L111.45,654.95 L111.90,653.78 L112.35,652.11 L112.80,649.73 L113.25,651.04 L113.70,649.44 L114.15,647.49 L114.60,647.00 L115.05,646.38 L115.50,649.76 L115.95,648.51 L116.40,650.56 L116.85,651.69 L117.30,657.26 L117.75,657.96 L118.20,659.99 L118.65,662.83 L119.10,664.36 L119.55,666.57 L120.00,670.97 L120.45,670.69 L120.90,673.54 L121.35,675.76 L121.80,674.65 L122.25,678.99 L122.70,680.99 L123.15,682.11 L123.60,684.17 L124.05,683.24 L124.50,685.13 L124.95,684.96 L125.40,687.13 L125.85,689.27 L126.30,688.11 L126.75,690.89 L127.20,691.31 L127.65,691.60 L128.10,691.97 L128.55,691.49 L129.00,693.56 L129.45,693.26 L129.90,693.99 L130.35,695.21 L130.80,695.41 L131.25,695.16 L131.70,695.11 L132.15,695.47 L132.60,695.68 L133.05,696.11 L133.50,696.47 L133.95,696.11 L134.40,696.75 L134.85,696.89 L135.30,696.42 L135.75,696.91 L136.20,696.47 L136.65,696.56 L137.10,696.45 L137.55,696.19 L138.00,696.53 L138.45,696.33 L138.90,696.92 L139.35,696.02 L139.80,696.49 L140.25,695.86 L140.70,697.41 L141.15,696.43 L141.60,695.92 L142.05,697.22 L142.50,696.22 L142.95,696.01 L143.40,696.02 L143.85,696.80 L144.30,695.99 L144.75,696.05 L145.20,696.60 L145.65,695.81 L146.10,696.21 L146.55,696.20 L147.00,696.45 L147.45,696.02 L147.90,696.25 L148.35,695.82 L148.80,696.16 L149.25,696.66 L149.70,696.52 L150.15,696.05 L150.60,696.64 L151.05,696.34 L151.50,696.31 L151.95,696.64 L152.40,697.56 L152.85,696.57 L153.30,696.56 L153.75,696.63 L154.20,697.03 L154.65,696.28 L155.10,696.85 L155.55,697.08 L156.00,697.15 L156.45,696.78 L156.90,697.36 L157.35,697.36 L157.80,696.29 L158.25,696.58 L158.70,696.72 L159.15,696.64 L159.60,696.95 L160.05,697.60 L160.50,696.80 L160.95,696.81 L161.40,697.09 L161.85,697.60 L162.30,696.87 L162.75,696.84 L163.20,697.48 L163.65,697.28 L164.10,697.07 L164.55,697.37 L165.00,696.98 L165.45,697.33 L165.90,697.14 L166.35,697.34 L166.80,697.60 L167.25,697.60 L167.70,696.35 L168.15,697.31 L168.60,696.98 L169.05,697.04 L169.50,696.86 L169.95,697.24 L170.40,697.60 L170.85,697.43 L171.30,697.60 L171.40,697.50" fill="none" stroke="#000" stroke-width="1.4" stroke-linejoin="round"/>
<path d="M93.20,619.50 H171.60 V697.60" fill="none" stroke="#606060" stroke-width="1.25"/>
<path d="M93.20,619.00 V697.60 H172.10" fill="none" stroke="#000" stroke-width="1.3"/>
<path d="M90.20,697.60 H93.20 M91.20,694.48 H93.20 M91.20,691.35 H93.20 M91.20,688.23 H93.20 M91.20,685.10 H93.20 M90.20,681.98 H93.20 M91.20,678.86 H93.20 M91.20,675.73 H93.20 M91.20,672.61 H93.20 M91.20,669.48 H93.20 M90.20,666.36 H93.20 M91.20,663.24 H93.20 M91.20,660.11 H93.20 M91.20,656.99 H93.20 M91.20,653.86 H93.20 M90.20,650.74 H93.20 M91.20,647.62 H93.20 M91.20,644.49 H93.20 M91.20,641.37 H93.20 M91.20,638.24 H93.20 M90.20,635.12 H93.20 M91.20,632.00 H93.20 M91.20,628.87 H93.20 M91.20,625.75 H93.20 M91.20,622.62 H93.20 M90.20,619.50 H93.20" stroke="#333" stroke-width="0.9"/>
<path d="M93.20,697.60 V700.60 M99.10,697.60 V699.40 M102.55,697.60 V699.40 M105.00,697.60 V699.40 M106.90,697.60 V699.40 M108.45,697.60 V699.40 M109.76,697.60 V699.40 M110.90,697.60 V699.40 M111.90,697.60 V699.40 M112.80,697.60 V700.60 M118.70,697.60 V699.40 M122.15,697.60 V699.40 M124.60,697.60 V699.40 M126.50,697.60 V699.40 M128.05,697.60 V699.40 M129.36,697.60 V699.40 M130.50,697.60 V699.40 M131.50,697.60 V699.40 M132.40,697.60 V700.60 M138.30,697.60 V699.40 M141.75,697.60 V699.40 M144.20,697.60 V699.40 M146.10,697.60 V699.40 M147.65,697.60 V699.40 M148.96,697.60 V699.40 M150.10,697.60 V699.40 M151.10,697.60 V699.40 M152.00,697.60 V700.60 M157.90,697.60 V699.40 M161.35,697.60 V699.40 M163.80,697.60 V699.40 M165.70,697.60 V699.40 M167.25,697.60 V699.40 M168.56,697.60 V699.40 M169.70,697.60 V699.40 M170.70,697.60 V699.40 M171.60,697.60 V700.60" stroke="#333" stroke-width="0.9"/>
<text x="90.00" y="702.24" font-size="10.8" text-anchor="end" font-weight="bold" font-style="normal" fill="#000" stroke="#000" stroke-width="0.3" >0</text>
<text x="90.00" y="686.62" font-size="10.8" text-anchor="end" font-weight="bold" font-style="normal" fill="#000" stroke="#000" stroke-width="0.3" >30</text>
<text x="90.00" y="671.00" font-size="10.8" text-anchor="end" font-weight="bold" font-style="normal" fill="#000" stroke="#000" stroke-width="0.3" >60</text>
<text x="90.00" y="655.38" font-size="10.8" text-anchor="end" font-weight="bold" font-style="normal" fill="#000" stroke="#000" stroke-width="0.3" >90</text>
<text x="90.00" y="639.76" font-size="10.8" text-anchor="end" font-weight="bold" font-style="normal" fill="#000" stroke="#000" stroke-width="0.3" >120</text>
<text x="90.00" y="624.14" font-size="10.8" text-anchor="end" font-weight="bold" font-style="normal" fill="#000" stroke="#000" stroke-width="0.3" >150</text>
<text x="86.40" y="712.30" font-size="10.2" font-weight="bold" stroke="#000" stroke-width="0.3">10<tspan font-size="7.55" font-weight="normal" stroke-width="0.25" dx="0.3" dy="-4.08">0</tspan></text>
<text x="105.06" y="712.30" font-size="10.2" font-weight="bold" stroke="#000" stroke-width="0.3">10<tspan font-size="7.55" font-weight="normal" stroke-width="0.25" dx="0.3" dy="-4.08">1</tspan></text>
<text x="123.72" y="712.30" font-size="10.2" font-weight="bold" stroke="#000" stroke-width="0.3">10<tspan font-size="7.55" font-weight="normal" stroke-width="0.25" dx="0.3" dy="-4.08">2</tspan></text>
<text x="142.38" y="712.30" font-size="10.2" font-weight="bold" stroke="#000" stroke-width="0.3">10<tspan font-size="7.55" font-weight="normal" stroke-width="0.25" dx="0.3" dy="-4.08">3</tspan></text>
<text x="161.05" y="712.30" font-size="10.2" font-weight="bold" stroke="#000" stroke-width="0.3">10<tspan font-size="7.55" font-weight="normal" stroke-width="0.25" dx="0.3" dy="-4.08">4</tspan></text>
<text transform="translate(69.20,657.80) rotate(-90)" x="0" y="0" font-size="11.3" text-anchor="middle" font-weight="bold" stroke="#000" stroke-width="0.3">Counts</text>
<path d="M208.20,697.50 L208.40,696.81 L208.85,697.50 L209.30,696.85 L209.75,696.53 L210.20,696.24 L210.65,696.97 L211.10,696.79 L211.55,697.18 L212.00,696.78 L212.45,696.09 L212.90,695.38 L213.35,696.59 L213.80,695.44 L214.25,695.72 L214.70,695.98 L215.15,694.62 L215.60,696.58 L216.05,695.14 L216.50,694.61 L216.95,693.08 L217.40,692.66 L217.85,691.70 L218.30,692.45 L218.75,691.18 L219.20,690.18 L219.65,690.14 L220.10,689.48 L220.55,689.14 L221.00,688.48 L221.45,688.46 L221.90,683.77 L222.35,685.58 L222.80,686.47 L223.25,682.50 L223.70,681.61 L224.15,680.00 L224.60,676.61 L225.05,677.51 L225.50,676.29 L225.95,675.49 L226.40,673.22 L226.85,672.33 L227.30,670.13 L227.75,665.13 L228.20,666.80 L228.65,666.64 L229.10,661.78 L229.55,662.04 L230.00,661.47 L230.45,661.13 L230.90,660.55 L231.35,660.11 L231.80,658.30 L232.25,657.60 L232.70,655.72 L233.15,656.26 L233.60,653.40 L234.05,650.66 L234.50,647.30 L234.95,649.94 L235.40,655.41 L235.85,656.88 L236.30,655.30 L236.75,657.70 L237.20,661.08 L237.65,660.13 L238.10,659.20 L238.55,659.32 L239.00,657.67 L239.45,655.46 L239.90,655.47 L240.35,656.72 L240.80,655.18 L241.25,658.09 L241.70,660.35 L242.15,663.60 L242.60,666.34 L243.05,667.66 L243.50,667.97 L243.95,670.15 L244.40,673.42 L244.85,669.96 L245.30,673.99 L245.75,674.67 L246.20,674.32 L246.65,679.02 L247.10,675.51 L247.55,679.04 L248.00,678.28 L248.45,680.70 L248.90,680.75 L249.35,681.91 L249.80,682.78 L250.25,685.50 L250.70,685.25 L251.15,683.39 L251.60,681.31 L252.05,683.30 L252.50,681.61 L252.95,681.78 L253.40,681.34 L253.85,681.34 L254.30,685.58 L254.75,684.93 L255.20,686.92 L255.65,688.14 L256.10,689.17 L256.55,689.39 L257.00,689.86 L257.45,690.12 L257.90,686.86 L258.35,687.82 L258.80,689.57 L259.25,689.09 L259.70,690.84 L260.15,692.62 L260.60,691.98 L261.05,690.52 L261.50,689.68 L261.95,691.10 L262.40,692.04 L262.85,691.59 L263.30,692.30 L263.75,692.68 L264.20,691.83 L264.65,691.94 L265.10,692.23 L265.55,692.23 L266.00,692.20 L266.45,691.23 L266.90,690.26 L267.35,691.47 L267.80,689.50 L268.25,692.57 L268.70,691.52 L269.15,693.32 L269.60,693.55 L270.05,694.29 L270.50,694.72 L270.95,694.76 L271.40,695.78 L271.85,696.29 L272.30,696.02 L272.75,696.01 L273.20,696.58 L273.65,696.11 L274.10,695.96 L274.55,697.23 L275.00,696.69 L275.45,696.55 L275.90,697.50 L276.35,696.97 L276.80,697.16 L277.25,697.50 L277.70,696.69 L278.15,697.08 L278.60,697.33 L279.05,697.04 L279.50,696.99 L279.95,696.96 L280.40,697.03 L280.85,697.10 L281.30,697.50 L281.75,697.39 L282.20,697.22 L282.65,697.50 L283.10,696.59 L283.55,697.40 L284.00,697.50 L284.45,697.50 L284.90,697.22 L285.35,697.30 L285.80,697.50 L286.25,697.46 L286.70,697.50 L287.00,697.50 L287.20,697.50 Z" fill="#636363" stroke="#6a6a6a" stroke-width="0.6"/>
<path d="M208.40,689.02 L208.85,693.05 L209.30,695.44 L209.75,696.23 L210.20,696.10 L210.65,695.97 L211.10,695.57 L211.55,695.79 L212.00,695.88 L212.45,695.98 L212.90,696.17 L213.35,695.87 L213.80,695.30 L214.25,695.33 L214.70,695.19 L215.15,695.05 L215.60,694.42 L216.05,692.28 L216.50,690.69 L216.95,690.05 L217.40,690.29 L217.85,687.57 L218.30,685.30 L218.75,684.85 L219.20,681.48 L219.65,680.33 L220.10,679.23 L220.55,677.78 L221.00,673.22 L221.45,671.58 L221.90,670.73 L222.35,668.16 L222.80,662.80 L223.25,659.99 L223.70,657.96 L224.15,652.77 L224.60,652.46 L225.05,650.84 L225.50,645.80 L225.95,645.10 L226.40,642.47 L226.85,641.10 L227.30,640.61 L227.75,639.75 L228.20,639.43 L228.65,641.26 L229.10,648.17 L229.55,647.88 L230.00,651.64 L230.45,655.12 L230.90,654.41 L231.35,654.46 L231.80,656.51 L232.25,658.28 L232.70,655.73 L233.15,658.72 L233.60,658.87 L234.05,664.00 L234.50,663.80 L234.95,665.98 L235.40,668.03 L235.85,667.65 L236.30,668.18 L236.75,670.01 L237.20,671.63 L237.65,670.72 L238.10,673.81 L238.55,671.68 L239.00,672.36 L239.45,671.55 L239.90,673.18 L240.35,674.46 L240.80,675.20 L241.25,676.12 L241.70,678.43 L242.15,675.78 L242.60,677.76 L243.05,679.81 L243.50,682.09 L243.95,680.24 L244.40,682.75 L244.85,686.12 L245.30,685.01 L245.75,684.59 L246.20,687.38 L246.65,687.33 L247.10,688.52 L247.55,689.01 L248.00,687.55 L248.45,685.83 L248.90,688.94 L249.35,689.39 L249.80,688.79 L250.25,690.07 L250.70,689.45 L251.15,689.69 L251.60,691.55 L252.05,691.88 L252.50,691.39 L252.95,691.01 L253.40,691.75 L253.85,691.37 L254.30,693.50 L254.75,692.56 L255.20,693.62 L255.65,693.52 L256.10,693.74 L256.55,694.81 L257.00,694.71 L257.45,695.47 L257.90,695.01 L258.35,695.74 L258.80,695.72 L259.25,695.47 L259.70,695.93 L260.15,695.18 L260.60,696.02 L261.05,695.41 L261.50,695.69 L261.95,696.29 L262.40,695.97 L262.85,696.26 L263.30,696.09 L263.75,696.07 L264.20,695.22 L264.65,696.18 L265.10,695.38 L265.55,695.88 L266.00,696.63 L266.45,697.08 L266.90,695.90 L267.35,697.02 L267.80,695.99 L268.25,695.93 L268.70,696.24 L269.15,696.54 L269.60,696.62 L270.05,696.50 L270.50,696.78 L270.95,696.94 L271.40,696.94 L271.85,696.47 L272.30,697.16 L272.75,696.88 L273.20,697.45 L273.65,697.35 L274.10,697.50 L274.55,697.27 L275.00,697.01 L275.45,697.16 L275.90,697.42 L276.35,697.08 L276.80,697.39 L277.25,697.16 L277.70,697.20 L278.15,697.12 L278.60,697.50 L279.05,697.50 L279.50,697.06 L279.95,697.34 L280.40,696.60 L280.85,697.39 L281.30,697.49 L281.75,696.84 L282.20,697.14 L282.65,696.72 L283.10,697.16 L283.55,697.39 L284.00,697.10 L284.45,697.50 L284.90,697.47 L285.35,697.50 L285.80,697.41 L286.25,697.09 L286.70,697.49 L287.00,697.24" fill="none" stroke="#000" stroke-width="1.4" stroke-linejoin="round"/>
<path d="M208.20,619.50 H287.20 V697.50" fill="none" stroke="#606060" stroke-width="1.25"/>
<path d="M208.20,619.00 V697.50 H287.70" fill="none" stroke="#000" stroke-width="1.3"/>
<path d="M205.20,697.50 H208.20 M206.20,694.38 H208.20 M206.20,691.26 H208.20 M206.20,688.14 H208.20 M206.20,685.02 H208.20 M205.20,681.90 H208.20 M206.20,678.78 H208.20 M206.20,675.66 H208.20 M206.20,672.54 H208.20 M206.20,669.42 H208.20 M205.20,666.30 H208.20 M206.20,663.18 H208.20 M206.20,660.06 H208.20 M206.20,656.94 H208.20 M206.20,653.82 H208.20 M205.20,650.70 H208.20 M206.20,647.58 H208.20 M206.20,644.46 H208.20 M206.20,641.34 H208.20 M206.20,638.22 H208.20 M205.20,635.10 H208.20 M206.20,631.98 H208.20 M206.20,628.86 H208.20 M206.20,625.74 H208.20 M206.20,622.62 H208.20 M205.20,619.50 H208.20" stroke="#333" stroke-width="0.9"/>
<path d="M208.20,697.50 V700.50 M214.15,697.50 V699.30 M217.62,697.50 V699.30 M220.09,697.50 V699.30 M222.00,697.50 V699.30 M223.57,697.50 V699.30 M224.89,697.50 V699.30 M226.04,697.50 V699.30 M227.05,697.50 V699.30 M227.95,697.50 V700.50 M233.90,697.50 V699.30 M237.37,697.50 V699.30 M239.84,697.50 V699.30 M241.75,697.50 V699.30 M243.32,697.50 V699.30 M244.64,697.50 V699.30 M245.79,697.50 V699.30 M246.80,697.50 V699.30 M247.70,697.50 V700.50 M253.65,697.50 V699.30 M257.12,697.50 V699.30 M259.59,697.50 V699.30 M261.50,697.50 V699.30 M263.07,697.50 V699.30 M264.39,697.50 V699.30 M265.54,697.50 V699.30 M266.55,697.50 V699.30 M267.45,697.50 V700.50 M273.40,697.50 V699.30 M276.87,697.50 V699.30 M279.34,697.50 V699.30 M281.25,697.50 V699.30 M282.82,697.50 V699.30 M284.14,697.50 V699.30 M285.29,697.50 V699.30 M286.30,697.50 V699.30 M287.20,697.50 V700.50" stroke="#333" stroke-width="0.9"/>
<text x="204.00" y="702.14" font-size="10.8" text-anchor="end" font-weight="bold" font-style="normal" fill="#000" stroke="#000" stroke-width="0.3" >0</text>
<text x="204.00" y="686.54" font-size="10.8" text-anchor="end" font-weight="bold" font-style="normal" fill="#000" stroke="#000" stroke-width="0.3" >20</text>
<text x="204.00" y="670.94" font-size="10.8" text-anchor="end" font-weight="bold" font-style="normal" fill="#000" stroke="#000" stroke-width="0.3" >40</text>
<text x="204.00" y="655.34" font-size="10.8" text-anchor="end" font-weight="bold" font-style="normal" fill="#000" stroke="#000" stroke-width="0.3" >60</text>
<text x="204.00" y="639.74" font-size="10.8" text-anchor="end" font-weight="bold" font-style="normal" fill="#000" stroke="#000" stroke-width="0.3" >80</text>
<text x="204.00" y="624.14" font-size="10.8" text-anchor="end" font-weight="bold" font-style="normal" fill="#000" stroke="#000" stroke-width="0.3" >100</text>
<text x="203.00" y="712.30" font-size="10.2" font-weight="bold" stroke="#000" stroke-width="0.3">10<tspan font-size="7.55" font-weight="normal" stroke-width="0.25" dx="0.3" dy="-4.08">0</tspan></text>
<text x="221.56" y="712.30" font-size="10.2" font-weight="bold" stroke="#000" stroke-width="0.3">10<tspan font-size="7.55" font-weight="normal" stroke-width="0.25" dx="0.3" dy="-4.08">1</tspan></text>
<text x="240.12" y="712.30" font-size="10.2" font-weight="bold" stroke="#000" stroke-width="0.3">10<tspan font-size="7.55" font-weight="normal" stroke-width="0.25" dx="0.3" dy="-4.08">2</tspan></text>
<text x="258.68" y="712.30" font-size="10.2" font-weight="bold" stroke="#000" stroke-width="0.3">10<tspan font-size="7.55" font-weight="normal" stroke-width="0.25" dx="0.3" dy="-4.08">3</tspan></text>
<text x="277.25" y="712.30" font-size="10.2" font-weight="bold" stroke="#000" stroke-width="0.3">10<tspan font-size="7.55" font-weight="normal" stroke-width="0.25" dx="0.3" dy="-4.08">4</tspan></text>
<text transform="translate(184.00,657.80) rotate(-90)" x="0" y="0" font-size="11.3" text-anchor="middle" font-weight="bold" stroke="#000" stroke-width="0.3">Counts</text>
<text x="27.00" y="12.20" font-size="17.5" text-anchor="start" font-weight="bold" font-style="normal" fill="#000" stroke="#000" stroke-width="0.1" >a</text>
<text x="26.60" y="277.90" font-size="17.5" text-anchor="start" font-weight="bold" font-style="normal" fill="#000" stroke="#000" stroke-width="0.1" >b</text>
<text x="27.50" y="570.00" font-size="17.5" text-anchor="start" font-weight="bold" font-style="normal" fill="#000" stroke="#000" stroke-width="0.1" >c</text>
<text x="138.20" y="37.70" font-size="14.5" text-anchor="middle" font-weight="bold" font-style="normal" fill="#000" stroke="#000" stroke-width="0.3" >Day 0</text>
<text x="252.50" y="37.70" font-size="14.5" text-anchor="middle" font-weight="bold" font-style="normal" fill="#000" stroke="#000" stroke-width="0.3" >Day 3</text>
<text x="369.70" y="37.70" font-size="14.5" text-anchor="middle" font-weight="bold" font-style="normal" fill="#000" stroke="#000" stroke-width="0.3" >Day 4</text>
<path d="M329,40.6 H398" stroke="#777" stroke-width="0.6" stroke-dasharray="1.2,2.2"/>
<text x="12.30" y="79.80" font-size="14.2" text-anchor="start" font-weight="bold" font-style="normal" fill="#000" stroke="#000" stroke-width="0.3" >WT</text>
<text x="2.5" y="193.8" font-size="14.3" font-weight="bold" font-style="italic">Pld2</text>
<text x="36.60" y="189.50" font-size="10" text-anchor="start" font-weight="normal" font-style="italic" fill="#000" stroke="#000" stroke-width="0.2" >-/-</text>
<text transform="translate(58.50,103.30) rotate(-90)" x="0" y="0" font-size="14.5" text-anchor="middle" font-weight="bold" stroke="#000" stroke-width="0.3">Cell number</text>
<path d="M52.4,149.7 L48.199999999999996,157.2 L56.6,157.2 Z" fill="#000"/>
<path d="M52.4,156.7 V251.6" stroke="#000" stroke-width="1.6" fill="none"/>
<path d="M182.8,251.5 L174.3,247.7 L174.3,255.3 Z" fill="#000"/>
<path d="M51.6,251.5 H174.8" stroke="#000" stroke-width="1.6" fill="none"/>
<text x="187.90" y="257.10" font-size="14.1" text-anchor="start" font-weight="bold" font-style="normal" fill="#000" stroke="#000" stroke-width="0.3" >CFSE</text>
<text x="143.00" y="291.90" font-size="14.6" text-anchor="middle" font-weight="bold" font-style="normal" fill="#000" stroke="#000" stroke-width="0.3" >untreated</text>
<text x="257.10" y="291.90" font-size="14.6" text-anchor="middle" font-weight="bold" font-style="normal" fill="#000" stroke="#000" stroke-width="0.3" >DMSO</text>
<text x="376.90" y="291.80" font-size="14.6" text-anchor="middle" font-weight="bold" font-style="normal" fill="#000" stroke="#000" stroke-width="0.3" >1 <tspan font-family="Liberation Serif" font-weight="normal" stroke-width="0" font-size="15.5">&#181;</tspan>M inhibitor</text>
<text x="499.30" y="291.80" font-size="14.6" text-anchor="middle" font-weight="bold" font-style="normal" fill="#000" stroke="#000" stroke-width="0.3" >2 <tspan font-family="Liberation Serif" font-weight="normal" stroke-width="0" font-size="15.5">&#181;</tspan>M inhibitor</text>
<text x="5.90" y="342.10" font-size="14" text-anchor="start" font-weight="bold" font-style="normal" fill="#000" stroke="#000" stroke-width="0.3" >Day 3</text>
<text x="5.90" y="466.20" font-size="14" text-anchor="start" font-weight="bold" font-style="normal" fill="#000" stroke="#000" stroke-width="0.3" >Day 4</text>
<text transform="translate(58.00,382.00) rotate(-90)" x="0" y="0" font-size="14.5" text-anchor="middle" font-weight="bold" stroke="#000" stroke-width="0.3">Cell number</text>
<path d="M52.6,427.0 L48.4,434.5 L56.800000000000004,434.5 Z" fill="#000"/>
<path d="M52.6,434.0 V528.8" stroke="#000" stroke-width="1.6" fill="none"/>
<path d="M183.0,528.3 L174.5,524.5 L174.5,532.0999999999999 Z" fill="#000"/>
<path d="M51.8,528.3 H175.0" stroke="#000" stroke-width="1.6" fill="none"/>
<text x="188.20" y="536.10" font-size="14.1" text-anchor="start" font-weight="bold" font-style="normal" fill="#000" stroke="#000" stroke-width="0.3" >CFSE</text>
<rect x="141.6" y="574.4" width="7.6" height="7.6" fill="#fff" stroke="#000" stroke-width="1.5"/>
<text x="153.20" y="583.60" font-size="14" text-anchor="start" font-weight="bold" font-style="normal" fill="#000" stroke="#000" stroke-width="0.3" >WT</text>
<rect x="194.0" y="573.8" width="9.3" height="8.9" fill="#555"/>
<text x="206.8" y="584.2" font-size="14.3" font-weight="bold" font-style="italic">Pld2</text>
<text x="240.60" y="579.80" font-size="10" text-anchor="start" font-weight="normal" font-style="italic" fill="#000" stroke="#000" stroke-width="0.2" >-/-</text>
<text x="134.00" y="609.00" font-size="14.5" text-anchor="middle" font-weight="bold" font-style="normal" fill="#000" stroke="#000" stroke-width="0.3" >Day 3</text>
<text x="248.30" y="609.00" font-size="14.5" text-anchor="middle" font-weight="bold" font-style="normal" fill="#000" stroke="#000" stroke-width="0.3" >Day 4</text>
<text transform="translate(56.00,642.90) rotate(-90)" x="0" y="0" font-size="14.3" text-anchor="middle" font-weight="bold" stroke="#000" stroke-width="0.3">Cell number</text>
<path d="M49.6,692.2 L45.300000000000004,700.2 L53.9,700.2 Z" fill="#000"/>
<path d="M49.6,699.7 V724.5" stroke="#000" stroke-width="1.6" fill="none"/>
<path d="M98.9,723.7 L90.9,720.2 L90.9,727.2 Z" fill="#000"/>
<path d="M48.8,723.7 H91.4" stroke="#000" stroke-width="1.6" fill="none"/>
<text x="106.00" y="729.20" font-size="14.5" text-anchor="start" font-weight="bold" font-style="normal" fill="#000" stroke="#000" stroke-width="0.3" >AnnexinV-FITC</text>
<path d="M522.00,109.27 V98.60 M518.80,98.60 H525.20" stroke="#000" stroke-width="1.4" fill="none"/>
<rect x="513.10" y="109.97" width="17.80" height="126.43" fill="#fff" stroke="#000" stroke-width="1.4"/>
<path d="M545.75,48.88 V40.87 M542.55,40.87 H548.95" stroke="#000" stroke-width="1.4" fill="none"/>
<rect x="536.20" y="48.88" width="19.10" height="187.52" fill="#000"/>
<path d="M604.05,194.36 V189.35 M600.85,189.35 H607.25" stroke="#000" stroke-width="1.4" fill="none"/>
<rect x="595.20" y="195.06" width="17.70" height="41.34" fill="#fff" stroke="#000" stroke-width="1.4"/>
<path d="M627.70,152.98 V145.64 M624.50,145.64 H630.90" stroke="#000" stroke-width="1.4" fill="none"/>
<rect x="618.10" y="152.98" width="19.20" height="83.42" fill="#000"/>
<path d="M493.30,36.20 V236.40 H656.50" stroke="#000" stroke-width="1.4" fill="none"/>
<path d="M493.30,236.40 H497.10 M493.30,169.67 H497.10 M493.30,102.93 H497.10 M493.30,36.20 H497.10" stroke="#000" stroke-width="1.3"/>
<text x="488.60" y="241.15" font-size="13.2" text-anchor="end" font-weight="bold" font-style="normal" fill="#000" stroke="#000" stroke-width="0.3" >0</text>
<text x="488.60" y="174.42" font-size="13.2" text-anchor="end" font-weight="bold" font-style="normal" fill="#000" stroke="#000" stroke-width="0.3" >10</text>
<text x="488.60" y="107.69" font-size="13.2" text-anchor="end" font-weight="bold" font-style="normal" fill="#000" stroke="#000" stroke-width="0.3" >20</text>
<text x="488.60" y="40.95" font-size="13.2" text-anchor="end" font-weight="bold" font-style="normal" fill="#000" stroke="#000" stroke-width="0.3" >30</text>
<text x="545.90" y="43.40" font-size="18.5" text-anchor="middle" font-weight="bold" font-style="normal" fill="#000" stroke="#000" stroke-width="0.15" >*</text>
<text x="627.30" y="148.60" font-size="18.5" text-anchor="middle" font-weight="bold" font-style="normal" fill="#000" stroke="#000" stroke-width="0.15" >*</text>
<text transform="translate(462.20,140.00) rotate(-90)" x="0" y="0" font-size="14.3" text-anchor="middle" font-weight="bold" stroke="#000" stroke-width="0.3">CFSE<tspan font-size="9" dy="-5">+</tspan><tspan dy="5"> CD8</tspan><tspan font-size="9" dy="-5">+</tspan><tspan dy="5"> T cells (%)</tspan></text>
<rect x="577.1" y="62.4" width="6.4" height="6.4" fill="#fff" stroke="#000" stroke-width="1.3"/>
<text x="589.50" y="72.00" font-size="14.5" text-anchor="start" font-weight="bold" font-style="normal" fill="#000" stroke="#000" stroke-width="0.3" >WT</text>
<rect x="576.4" y="85.6" width="7.6" height="7.6" fill="#000"/>
<text x="588.0" y="95.3" font-size="14.5" font-weight="bold" font-style="italic">Pld2</text>
<text x="621.80" y="91.20" font-size="10" text-anchor="start" font-weight="normal" font-style="italic" fill="#000" stroke="#000" stroke-width="0.2" >-/-</text>
<text x="533.80" y="258.40" font-size="14.1" text-anchor="middle" font-weight="bold" font-style="normal" fill="#000" stroke="#000" stroke-width="0.3" >3 days</text>
<text x="615.20" y="258.40" font-size="14.1" text-anchor="middle" font-weight="bold" font-style="normal" fill="#000" stroke="#000" stroke-width="0.3" >4 days</text>
<path d="M406.75,670.49 V668.95 M403.55,668.95 H409.95" stroke="#000" stroke-width="1.4" fill="none"/>
<rect x="399.80" y="671.19" width="13.90" height="44.91" fill="#fff" stroke="#000" stroke-width="1.4"/>
<path d="M425.15,628.26 V623.95 M421.95,623.95 H428.35" stroke="#000" stroke-width="1.4" fill="none"/>
<rect x="417.20" y="628.26" width="15.90" height="87.84" fill="#000"/>
<path d="M472.60,631.04 V626.72 M469.40,626.72 H475.80" stroke="#000" stroke-width="1.4" fill="none"/>
<rect x="465.70" y="631.74" width="13.80" height="84.36" fill="#fff" stroke="#000" stroke-width="1.4"/>
<path d="M491.35,586.66 V582.65 M488.15,582.65 H494.55" stroke="#000" stroke-width="1.4" fill="none"/>
<rect x="483.40" y="586.66" width="15.90" height="129.44" fill="#000"/>
<path d="M383.00,562.00 V716.10 H514.00" stroke="#000" stroke-width="1.4" fill="none"/>
<path d="M383.00,716.10 H386.80 M383.00,685.28 H386.80 M383.00,654.46 H386.80 M383.00,623.64 H386.80 M383.00,592.82 H386.80 M383.00,562.00 H386.80" stroke="#000" stroke-width="1.3"/>
<text x="378.80" y="720.28" font-size="11.6" text-anchor="end" font-weight="bold" font-style="normal" fill="#000" stroke="#000" stroke-width="0.3" >0</text>
<text x="378.80" y="689.46" font-size="11.6" text-anchor="end" font-weight="bold" font-style="normal" fill="#000" stroke="#000" stroke-width="0.3" >10</text>
<text x="378.80" y="658.64" font-size="11.6" text-anchor="end" font-weight="bold" font-style="normal" fill="#000" stroke="#000" stroke-width="0.3" >20</text>
<text x="378.80" y="627.82" font-size="11.6" text-anchor="end" font-weight="bold" font-style="normal" fill="#000" stroke="#000" stroke-width="0.3" >30</text>
<text x="378.80" y="597.00" font-size="11.6" text-anchor="end" font-weight="bold" font-style="normal" fill="#000" stroke="#000" stroke-width="0.3" >40</text>
<text x="378.80" y="566.18" font-size="11.6" text-anchor="end" font-weight="bold" font-style="normal" fill="#000" stroke="#000" stroke-width="0.3" >50</text>
<text x="426.30" y="627.30" font-size="18.5" text-anchor="middle" font-weight="bold" font-style="normal" fill="#000" stroke="#000" stroke-width="0.15" >*</text>
<text x="492.00" y="585.60" font-size="18.5" text-anchor="middle" font-weight="bold" font-style="normal" fill="#000" stroke="#000" stroke-width="0.15" >*</text>
<text transform="translate(355.40,638.70) rotate(-90)" x="0" y="0" font-size="14.3" text-anchor="middle" font-weight="bold" stroke="#000" stroke-width="0.3">Apoptotic CD8<tspan font-size="9" dy="-5">+</tspan><tspan dy="5"> T cells (%)</tspan></text>
<rect x="401.9" y="569.0" width="6.2" height="6.2" fill="#fff" stroke="#000" stroke-width="1.3"/>
<text x="414.00" y="576.80" font-size="14.5" text-anchor="start" font-weight="bold" font-style="normal" fill="#000" stroke="#000" stroke-width="0.3" >WT</text>
<rect x="401.4" y="591.2" width="6.8" height="6.8" fill="#000"/>
<text x="413.4" y="600.3" font-size="14.5" font-weight="bold" font-style="italic">Pld2</text>
<text x="446.80" y="596.20" font-size="11" text-anchor="start" font-weight="normal" font-style="italic" fill="#000" stroke="#000" stroke-width="0.2" >-/-</text>
<text x="415.40" y="737.00" font-size="14.1" text-anchor="middle" font-weight="bold" font-style="normal" fill="#000" stroke="#000" stroke-width="0.3" >3 days</text>
<text x="481.00" y="737.00" font-size="14.1" text-anchor="middle" font-weight="bold" font-style="normal" fill="#000" stroke="#000" stroke-width="0.3" >4 days</text>
</svg>
</body></html>
